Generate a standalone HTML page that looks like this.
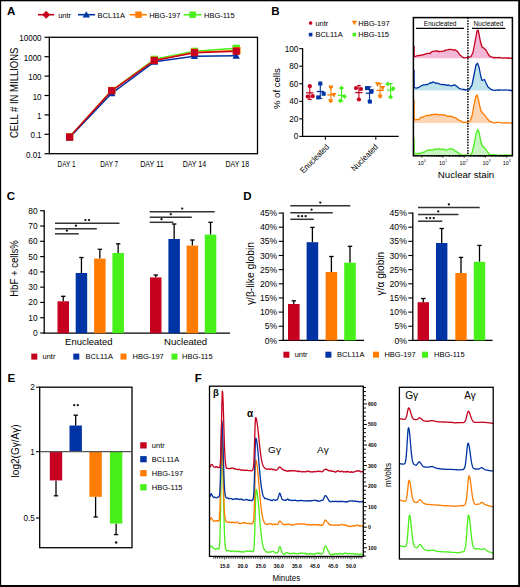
<!DOCTYPE html>
<html><head><meta charset="utf-8"><title>Figure</title>
<style>
html,body{margin:0;padding:0;background:#fff;}
body{width:520px;height:587px;overflow:hidden;}
svg{display:block;}
text{font-family:"Liberation Sans",sans-serif;}
</style></head>
<body>
<svg width="520" height="587" viewBox="0 0 520 587" font-family="Liberation Sans, sans-serif">
<rect x="0" y="0" width="520" height="587" fill="#fff"/>
<rect x="0" y="0" width="1.15" height="587" fill="#000"/>
<rect x="0" y="0" width="520" height="1.3" fill="#000"/>
<rect x="518.2" y="0" width="1.8" height="587" fill="#000"/>
<rect x="0" y="585" width="520" height="2" fill="#000"/>
<text x="7" y="14.8" font-size="11.5" text-anchor="start" font-weight="bold">A</text>
<line x1="38" y1="14.7" x2="54.2" y2="14.7" stroke="#c6001f" stroke-width="1.6"/>
<path d="M46.2 10.7 L50.2 14.7 L46.2 18.7 L42.2 14.7Z" fill="#c6001f"/>
<text x="58.2" y="17.5" font-size="7.5" text-anchor="start">untr</text>
<line x1="78" y1="14.7" x2="95" y2="14.7" stroke="#0033a3" stroke-width="1.6"/>
<path d="M86.3 11.18 L89.98 17.58 L82.62 17.58Z" fill="#0033a3"/>
<text x="97.6" y="17.5" font-size="7.5" text-anchor="start">BCL11A</text>
<line x1="129.8" y1="14.7" x2="146.8" y2="14.7" stroke="#ff7c00" stroke-width="1.6"/>
<rect x="135.3" y="11.5" width="6.4" height="6.4" fill="#ff7c00"/>
<text x="149.2" y="17.5" font-size="7.5" text-anchor="start">HBG-197</text>
<line x1="183.7" y1="14.7" x2="201.5" y2="14.7" stroke="#47f019" stroke-width="1.6"/>
<rect x="189.4" y="11.5" width="6.4" height="6.4" fill="#47f019"/>
<text x="204" y="17.5" font-size="7.5" text-anchor="start">HBG-115</text>
<rect x="49.3" y="37.3" width="208.2" height="116.4" fill="none" stroke="#000" stroke-width="1.3"/>
<line x1="44.5" y1="37.3" x2="49.3" y2="37.3" stroke="#000" stroke-width="1.2"/>
<text x="41.6" y="41.3" font-size="8.8" text-anchor="end" textLength="22.39" lengthAdjust="spacingAndGlyphs">10000</text>
<line x1="44.5" y1="56.7" x2="49.3" y2="56.7" stroke="#000" stroke-width="1.2"/>
<text x="41.6" y="60.7" font-size="8.8" text-anchor="end" textLength="17.91" lengthAdjust="spacingAndGlyphs">1000</text>
<line x1="44.5" y1="76.1" x2="49.3" y2="76.1" stroke="#000" stroke-width="1.2"/>
<text x="41.6" y="80.1" font-size="8.8" text-anchor="end" textLength="13.43" lengthAdjust="spacingAndGlyphs">100</text>
<line x1="44.5" y1="95.5" x2="49.3" y2="95.5" stroke="#000" stroke-width="1.2"/>
<text x="41.6" y="99.5" font-size="8.8" text-anchor="end" textLength="8.96" lengthAdjust="spacingAndGlyphs">10</text>
<line x1="44.5" y1="114.9" x2="49.3" y2="114.9" stroke="#000" stroke-width="1.2"/>
<text x="41.6" y="118.9" font-size="8.8" text-anchor="end" textLength="4.48" lengthAdjust="spacingAndGlyphs">1</text>
<line x1="44.5" y1="134.3" x2="49.3" y2="134.3" stroke="#000" stroke-width="1.2"/>
<text x="41.6" y="138.3" font-size="8.8" text-anchor="end" textLength="11.19" lengthAdjust="spacingAndGlyphs">0.1</text>
<line x1="44.5" y1="153.7" x2="49.3" y2="153.7" stroke="#000" stroke-width="1.2"/>
<text x="41.6" y="157.7" font-size="8.8" text-anchor="end" textLength="15.67" lengthAdjust="spacingAndGlyphs">0.01</text>
<text x="17.8" y="92.8" font-size="10.5" text-anchor="middle" textLength="90.5" lengthAdjust="spacingAndGlyphs" transform="rotate(-90 17.8 92.8)">CELL # IN MILLIONS</text>
<text x="66.5" y="167.4" font-size="9.2" text-anchor="middle" textLength="18" lengthAdjust="spacingAndGlyphs">DAY 1</text>
<text x="109.2" y="167.4" font-size="9.2" text-anchor="middle" textLength="18" lengthAdjust="spacingAndGlyphs">DAY 7</text>
<text x="151.9" y="167.4" font-size="9.2" text-anchor="middle" textLength="23.5" lengthAdjust="spacingAndGlyphs">DAY 11</text>
<text x="194.4" y="167.4" font-size="9.2" text-anchor="middle" textLength="23.5" lengthAdjust="spacingAndGlyphs">DAY 14</text>
<text x="237.3" y="167.4" font-size="9.2" text-anchor="middle" textLength="23.5" lengthAdjust="spacingAndGlyphs">DAY 18</text>
<polyline points="69.6,137 111.7,90.5 154.3,59.3 194.5,51.3 236.2,48.3" fill="none" stroke="#47f019" stroke-width="1.5" stroke-linejoin="round"/>
<polyline points="69.6,137 111.7,90.5 154.3,60.2 194.5,52.2 236.2,50.6" fill="none" stroke="#ff7c00" stroke-width="1.5" stroke-linejoin="round"/>
<polyline points="69.6,137.5 111.7,93.3 154.3,61.8 194.5,56.2 236.2,55.8" fill="none" stroke="#0033a3" stroke-width="1.5" stroke-linejoin="round"/>
<polyline points="69.6,137 111.7,90.8 154.3,60.5 194.5,52.7 236.2,51.2" fill="none" stroke="#c6001f" stroke-width="1.5" stroke-linejoin="round"/>
<rect x="66" y="133.4" width="7.2" height="7.2" fill="#47f019"/>
<rect x="108.1" y="86.9" width="7.2" height="7.2" fill="#47f019"/>
<rect x="150.7" y="55.7" width="7.2" height="7.2" fill="#47f019"/>
<rect x="190.9" y="47.7" width="7.2" height="7.2" fill="#47f019"/>
<rect x="232.6" y="44.7" width="7.2" height="7.2" fill="#47f019"/>
<rect x="66" y="133.4" width="7.2" height="7.2" fill="#ff7c00"/>
<rect x="108.1" y="86.9" width="7.2" height="7.2" fill="#ff7c00"/>
<rect x="150.7" y="56.6" width="7.2" height="7.2" fill="#ff7c00"/>
<rect x="190.9" y="48.6" width="7.2" height="7.2" fill="#ff7c00"/>
<rect x="233.4" y="47" width="7.2" height="7.2" fill="#ff7c00"/>
<path d="M69.6 133.98 L73.28 140.38 L65.92 140.38Z" fill="#0033a3"/>
<path d="M111.7 89.78 L115.38 96.18 L108.02 96.18Z" fill="#0033a3"/>
<path d="M154.3 58.28 L157.98 64.68 L150.62 64.68Z" fill="#0033a3"/>
<path d="M194.5 52.68 L198.18 59.08 L190.82 59.08Z" fill="#0033a3"/>
<path d="M236.2 52.28 L239.88 58.68 L232.52 58.68Z" fill="#0033a3"/>
<rect x="66" y="133.4" width="7.2" height="7.2" fill="#c6001f"/>
<rect x="108.1" y="87.2" width="7.2" height="7.2" fill="#c6001f"/>
<rect x="150.7" y="56.9" width="7.2" height="7.2" fill="#c6001f"/>
<rect x="190.9" y="49.1" width="7.2" height="7.2" fill="#c6001f"/>
<rect x="232.6" y="47.6" width="7.2" height="7.2" fill="#c6001f"/>
<text x="271.3" y="15" font-size="11.5" text-anchor="start" font-weight="bold">B</text>
<circle cx="310.6" cy="23.1" r="1.8" fill="#c6001f"/>
<text x="315.4" y="25.8" font-size="7.5" text-anchor="start">untr</text>
<path d="M354.4 25.33 L357.04 20.73 L351.75 20.73Z" fill="#ff7c00"/>
<text x="358.3" y="25.8" font-size="7.5" text-anchor="start">HBG-197</text>
<rect x="308.8" y="32.8" width="3.6" height="3.6" fill="#0033a3"/>
<text x="315.4" y="37.3" font-size="7.5" text-anchor="start">BCL11A</text>
<rect x="352.6" y="32.8" width="3.6" height="3.6" fill="#47f019"/>
<text x="358.3" y="37.3" font-size="7.5" text-anchor="start">HBG-115</text>
<line x1="302.6" y1="48.3" x2="302.6" y2="137" stroke="#000" stroke-width="1.3"/>
<line x1="302" y1="136.4" x2="398.7" y2="136.4" stroke="#000" stroke-width="1.3"/>
<line x1="299.3" y1="136.4" x2="302.6" y2="136.4" stroke="#000" stroke-width="1.1"/>
<text x="298.3" y="139.3" font-size="8.2" text-anchor="end">0</text>
<line x1="299.3" y1="118.85" x2="302.6" y2="118.85" stroke="#000" stroke-width="1.1"/>
<text x="298.3" y="121.75" font-size="8.2" text-anchor="end">20</text>
<line x1="299.3" y1="101.3" x2="302.6" y2="101.3" stroke="#000" stroke-width="1.1"/>
<text x="298.3" y="104.2" font-size="8.2" text-anchor="end">40</text>
<line x1="299.3" y1="83.75" x2="302.6" y2="83.75" stroke="#000" stroke-width="1.1"/>
<text x="298.3" y="86.65" font-size="8.2" text-anchor="end">60</text>
<line x1="299.3" y1="66.2" x2="302.6" y2="66.2" stroke="#000" stroke-width="1.1"/>
<text x="298.3" y="69.1" font-size="8.2" text-anchor="end">80</text>
<line x1="299.3" y1="48.65" x2="302.6" y2="48.65" stroke="#000" stroke-width="1.1"/>
<text x="298.3" y="51.55" font-size="8.2" text-anchor="end">100</text>
<line x1="325.4" y1="136.4" x2="325.4" y2="139.8" stroke="#000" stroke-width="1.1"/>
<line x1="375.8" y1="136.4" x2="375.8" y2="139.8" stroke="#000" stroke-width="1.1"/>
<text x="280" y="88.6" font-size="9.7" text-anchor="middle" textLength="40.9" lengthAdjust="spacingAndGlyphs" transform="rotate(-90 280 88.6)">% of cells</text>
<text x="329.6" y="147.6" font-size="8.4" text-anchor="end" textLength="37" lengthAdjust="spacingAndGlyphs" transform="rotate(-45 329.6 147.6)">Enucleated</text>
<text x="378.6" y="147.6" font-size="8.4" text-anchor="end" textLength="34" lengthAdjust="spacingAndGlyphs" transform="rotate(-45 378.6 147.6)">Nucleated</text>
<line x1="309.8" y1="86.8" x2="309.8" y2="99.5" stroke="#c6001f" stroke-width="1.1"/>
<line x1="307.8" y1="86.8" x2="311.8" y2="86.8" stroke="#c6001f" stroke-width="1.1"/>
<line x1="307.8" y1="99.5" x2="311.8" y2="99.5" stroke="#c6001f" stroke-width="1.1"/>
<line x1="306.2" y1="92.8" x2="313.4" y2="92.8" stroke="#c6001f" stroke-width="1.3"/>
<circle cx="309.8" cy="86" r="2.1" fill="#c6001f"/>
<circle cx="307.7" cy="96.6" r="2.1" fill="#c6001f"/>
<circle cx="312.7" cy="96.2" r="2.1" fill="#c6001f"/>
<line x1="320.3" y1="84" x2="320.3" y2="98.5" stroke="#0033a3" stroke-width="1.1"/>
<line x1="318.3" y1="84" x2="322.3" y2="84" stroke="#0033a3" stroke-width="1.1"/>
<line x1="318.3" y1="98.5" x2="322.3" y2="98.5" stroke="#0033a3" stroke-width="1.1"/>
<line x1="316.7" y1="91.5" x2="323.9" y2="91.5" stroke="#0033a3" stroke-width="1.3"/>
<rect x="318.3" y="81.5" width="4" height="4" fill="#0033a3"/>
<rect x="321.7" y="91.8" width="4" height="4" fill="#0033a3"/>
<rect x="316.2" y="95.4" width="4" height="4" fill="#0033a3"/>
<line x1="330.9" y1="87.5" x2="330.9" y2="101.5" stroke="#ff7c00" stroke-width="1.1"/>
<line x1="328.9" y1="87.5" x2="332.9" y2="87.5" stroke="#ff7c00" stroke-width="1.1"/>
<line x1="328.9" y1="101.5" x2="332.9" y2="101.5" stroke="#ff7c00" stroke-width="1.1"/>
<line x1="327.3" y1="94.9" x2="334.5" y2="94.9" stroke="#ff7c00" stroke-width="1.3"/>
<path d="M330.9 89.92 L333.43 85.52 L328.37 85.52Z" fill="#ff7c00"/>
<path d="M333.9 97.52 L336.43 93.12 L331.37 93.12Z" fill="#ff7c00"/>
<path d="M330.5 103.62 L333.03 99.22 L327.97 99.22Z" fill="#ff7c00"/>
<line x1="341.5" y1="88.1" x2="341.5" y2="101" stroke="#47f019" stroke-width="1.1"/>
<line x1="339.5" y1="88.1" x2="343.5" y2="88.1" stroke="#47f019" stroke-width="1.1"/>
<line x1="339.5" y1="101" x2="343.5" y2="101" stroke="#47f019" stroke-width="1.1"/>
<line x1="337.9" y1="95.3" x2="345.1" y2="95.3" stroke="#47f019" stroke-width="1.3"/>
<path d="M341.5 85.72 L343.88 88.1 L341.5 90.47 L339.12 88.1Z" fill="#47f019"/>
<path d="M344.5 94.22 L346.88 96.6 L344.5 98.97 L342.12 96.6Z" fill="#47f019"/>
<path d="M340.2 98.42 L342.57 100.8 L340.2 103.17 L337.82 100.8Z" fill="#47f019"/>
<line x1="358.9" y1="85.6" x2="358.9" y2="99.5" stroke="#c6001f" stroke-width="1.1"/>
<line x1="356.9" y1="85.6" x2="360.9" y2="85.6" stroke="#c6001f" stroke-width="1.1"/>
<line x1="356.9" y1="99.5" x2="360.9" y2="99.5" stroke="#c6001f" stroke-width="1.1"/>
<line x1="355.3" y1="92.6" x2="362.5" y2="92.6" stroke="#c6001f" stroke-width="1.3"/>
<circle cx="356" cy="88.1" r="2.1" fill="#c6001f"/>
<circle cx="361" cy="89" r="2.1" fill="#c6001f"/>
<circle cx="358.9" cy="99.5" r="2.1" fill="#c6001f"/>
<line x1="369.5" y1="86.8" x2="369.5" y2="101" stroke="#0033a3" stroke-width="1.1"/>
<line x1="367.5" y1="86.8" x2="371.5" y2="86.8" stroke="#0033a3" stroke-width="1.1"/>
<line x1="367.5" y1="101" x2="371.5" y2="101" stroke="#0033a3" stroke-width="1.1"/>
<line x1="365.9" y1="93.2" x2="373.1" y2="93.2" stroke="#0033a3" stroke-width="1.3"/>
<rect x="365" y="86.1" width="4" height="4" fill="#0033a3"/>
<rect x="369.6" y="89.1" width="4" height="4" fill="#0033a3"/>
<rect x="367.9" y="99.6" width="4" height="4" fill="#0033a3"/>
<line x1="380.1" y1="83.5" x2="380.1" y2="97" stroke="#ff7c00" stroke-width="1.1"/>
<line x1="378.1" y1="83.5" x2="382.1" y2="83.5" stroke="#ff7c00" stroke-width="1.1"/>
<line x1="378.1" y1="97" x2="382.1" y2="97" stroke="#ff7c00" stroke-width="1.1"/>
<line x1="376.5" y1="90.4" x2="383.7" y2="90.4" stroke="#ff7c00" stroke-width="1.3"/>
<path d="M377.5 86.72 L380.03 82.32 L374.97 82.32Z" fill="#ff7c00"/>
<path d="M382.6 90.52 L385.13 86.12 L380.07 86.12Z" fill="#ff7c00"/>
<path d="M380.1 99.02 L382.63 94.62 L377.57 94.62Z" fill="#ff7c00"/>
<line x1="390.6" y1="83.5" x2="390.6" y2="97.5" stroke="#47f019" stroke-width="1.1"/>
<line x1="388.6" y1="83.5" x2="392.6" y2="83.5" stroke="#47f019" stroke-width="1.1"/>
<line x1="388.6" y1="97.5" x2="392.6" y2="97.5" stroke="#47f019" stroke-width="1.1"/>
<line x1="387" y1="90.1" x2="394.2" y2="90.1" stroke="#47f019" stroke-width="1.3"/>
<path d="M387.7 81.53 L390.07 83.9 L387.7 86.28 L385.32 83.9Z" fill="#47f019"/>
<path d="M393.2 86.12 L395.57 88.5 L393.2 90.88 L390.82 88.5Z" fill="#47f019"/>
<path d="M390.6 94.62 L392.98 97 L390.6 99.38 L388.23 97Z" fill="#47f019"/>
<path d="M414 46 L414.2 56.7 L415.47 56.4 L416.73 55.94 L418 55.49 L419 55.81 L420 55.17 L421 55.46 L422 55.18 L423 54.6 L424 54.71 L425 53.98 L426 54.04 L427 53.51 L428 53.33 L429 53.43 L430 53.59 L431 52.26 L432 51.65 L433 51.31 L434 51.47 L435 51 L436 50.71 L437 51.46 L438 50.86 L439 51.82 L440 51.41 L441 51.38 L442 51.46 L443 51.19 L444 51.22 L445 50.21 L446 50.27 L447 50.03 L448 49.49 L449 49.69 L450 49.31 L451 49.35 L452 49.54 L453 50 L454 49.8 L455 49.73 L456 50.53 L457 50.96 L458 52.15 L459 53.93 L460 55.18 L461 55.57 L462 56.67 L463 57.42 L464 57.8 L465 57.73 L466 57.58 L467 57.64 L468 57.7 L469 57.3 L470 56.9 L471 56.5 L472 54.5 L473 52.5 L474 47.25 L475 42 L476 36.5 L477 31 L478 30 L479 34 L480.5 42 L482 47 L483 47.65 L484 48.3 L485 49.15 L486 50 L487 52 L488 54 L489 55.25 L490 56.5 L491 56.8 L492 57.1 L493 57.21 L494 58.13 L495.02 57.37 L496.04 57.66 L497.07 57.98 L498.09 57.45 L499.11 57.77 L500.13 57.39 L501.16 57.97 L502.18 58.07 L503.2 57.92 L504.22 58.2 L505.24 57.72 L506.27 58.08 L507.29 58 L508.31 58.01 L509.33 57.91 L510.36 58.27 L511.38 58.38 L512.4 57.98 L512.4 58.3 L414 58.3 Z" fill="#f2b8d6" stroke="none" stroke-width="1"/>
<path d="M414 46 L414.2 56.7 L415.47 56.4 L416.73 55.94 L418 55.49 L419 55.81 L420 55.17 L421 55.46 L422 55.18 L423 54.6 L424 54.71 L425 53.98 L426 54.04 L427 53.51 L428 53.33 L429 53.43 L430 53.59 L431 52.26 L432 51.65 L433 51.31 L434 51.47 L435 51 L436 50.71 L437 51.46 L438 50.86 L439 51.82 L440 51.41 L441 51.38 L442 51.46 L443 51.19 L444 51.22 L445 50.21 L446 50.27 L447 50.03 L448 49.49 L449 49.69 L450 49.31 L451 49.35 L452 49.54 L453 50 L454 49.8 L455 49.73 L456 50.53 L457 50.96 L458 52.15 L459 53.93 L460 55.18 L461 55.57 L462 56.67 L463 57.42 L464 57.8 L465 57.73 L466 57.58 L467 57.64 L468 57.7 L469 57.3 L470 56.9 L471 56.5 L472 54.5 L473 52.5 L474 47.25 L475 42 L476 36.5 L477 31 L478 30 L479 34 L480.5 42 L482 47 L483 47.65 L484 48.3 L485 49.15 L486 50 L487 52 L488 54 L489 55.25 L490 56.5 L491 56.8 L492 57.1 L493 57.21 L494 58.13 L495.02 57.37 L496.04 57.66 L497.07 57.98 L498.09 57.45 L499.11 57.77 L500.13 57.39 L501.16 57.97 L502.18 58.07 L503.2 57.92 L504.22 58.2 L505.24 57.72 L506.27 58.08 L507.29 58 L508.31 58.01 L509.33 57.91 L510.36 58.27 L511.38 58.38 L512.4 57.98" fill="none" stroke="#c6001f" stroke-width="1.3" stroke-linejoin="round"/>
<path d="M414 70 L414.2 87.7 L415.47 87.8 L416.73 88.05 L418 87.6 L419 87.35 L420 86.47 L421 85.94 L422 85.61 L423 84.96 L424 84.87 L425 84.95 L426 84.3 L427 84.63 L428 84.3 L429.25 83.46 L430.5 82.6 L431.75 82.89 L433 81.97 L434 82.35 L435 82.75 L436 83.46 L437 83.02 L438 83.5 L439 83.74 L440 84.2 L441 84.29 L442 84.56 L443 84.27 L444 84.62 L445 84.67 L446 85.25 L447 85.41 L448 84.94 L449 85.21 L450 85.51 L451 85.76 L452 85.65 L453 85.41 L454 84.79 L455 85.05 L456 85.93 L457 86.38 L458 87.23 L459 88.24 L460 88.67 L461 88.85 L462 89.27 L463 89.66 L464 89.17 L465 90.01 L466 89.72 L467 89.8 L468 89.8 L469 89.8 L470 88.2 L471 86.6 L472 85 L473 80 L474 75 L475 70 L476 65 L477.5 63.3 L479 67 L480.5 75 L482 80.5 L483.25 80 L484.5 79.5 L486 83 L487 85 L488 87 L489 87.83 L490 88.67 L491 89.5 L492 89.64 L493 90.03 L494 90.26 L495 90.33 L496 90.1 L497.02 90.13 L498.05 89.88 L499.07 90.38 L500.1 89.88 L501.12 89.9 L502.15 90.05 L503.18 90.03 L504.2 90.21 L505.22 89.97 L506.25 89.94 L507.27 90.09 L508.3 90.07 L509.32 90.32 L510.35 90.04 L511.38 90.82 L512.4 90.6 L512.4 90.5 L414 90.5 Z" fill="#bfe3ea" stroke="none" stroke-width="1"/>
<path d="M414 70 L414.2 87.7 L415.47 87.8 L416.73 88.05 L418 87.6 L419 87.35 L420 86.47 L421 85.94 L422 85.61 L423 84.96 L424 84.87 L425 84.95 L426 84.3 L427 84.63 L428 84.3 L429.25 83.46 L430.5 82.6 L431.75 82.89 L433 81.97 L434 82.35 L435 82.75 L436 83.46 L437 83.02 L438 83.5 L439 83.74 L440 84.2 L441 84.29 L442 84.56 L443 84.27 L444 84.62 L445 84.67 L446 85.25 L447 85.41 L448 84.94 L449 85.21 L450 85.51 L451 85.76 L452 85.65 L453 85.41 L454 84.79 L455 85.05 L456 85.93 L457 86.38 L458 87.23 L459 88.24 L460 88.67 L461 88.85 L462 89.27 L463 89.66 L464 89.17 L465 90.01 L466 89.72 L467 89.8 L468 89.8 L469 89.8 L470 88.2 L471 86.6 L472 85 L473 80 L474 75 L475 70 L476 65 L477.5 63.3 L479 67 L480.5 75 L482 80.5 L483.25 80 L484.5 79.5 L486 83 L487 85 L488 87 L489 87.83 L490 88.67 L491 89.5 L492 89.64 L493 90.03 L494 90.26 L495 90.33 L496 90.1 L497.02 90.13 L498.05 89.88 L499.07 90.38 L500.1 89.88 L501.12 89.9 L502.15 90.05 L503.18 90.03 L504.2 90.21 L505.22 89.97 L506.25 89.94 L507.27 90.09 L508.3 90.07 L509.32 90.32 L510.35 90.04 L511.38 90.82 L512.4 90.6" fill="none" stroke="#0033a3" stroke-width="1.3" stroke-linejoin="round"/>
<path d="M414 99.5 L414.2 119.8 L415.32 119.8 L416.45 119.48 L417.57 119.58 L418.7 119.66 L419.85 118.53 L421 117.16 L422 117.44 L423 117.19 L424 116.34 L425 115.99 L426 115.5 L427 115.39 L428 115.48 L429 115.29 L430 115.52 L431 114.65 L432 114.25 L433 114.81 L434 114.47 L435 114.16 L436 114.56 L437 114.13 L438 114.63 L439 115 L440 114.86 L441 114.68 L442 114.69 L443 115.18 L444 114.75 L445 115.04 L446 115.4 L447 116.18 L448 116.35 L449 116.02 L450 116.31 L451 116.24 L452 116.54 L453 116.93 L454 117.36 L455 117.72 L456 118 L457 119.02 L458 119.62 L459 120.08 L460 120.5 L461 121.15 L462 121.56 L463 122.37 L464 122.64 L465 122.2 L466 122.28 L467 122.3 L468 121.87 L469 121.43 L470 121 L471 118.5 L472 116 L473 110.5 L474 105 L475 100.5 L476 96 L477 95 L478 97.5 L479.5 105 L481 111 L482 112.25 L483 113.5 L484 114.5 L485 115.5 L486 117 L487 118.5 L488 119.5 L489 120.5 L490 121.5 L491 121.72 L492 121.94 L493 122.55 L494 122.82 L495 123.01 L496.02 122.49 L497.05 122.37 L498.07 122.39 L499.09 122.37 L500.12 122.39 L501.14 122.78 L502.16 123.04 L503.19 123 L504.21 122.69 L505.24 122.86 L506.26 123 L507.28 122.37 L508.31 122.9 L509.33 123.13 L510.35 123.03 L511.38 123.01 L512.4 122.78 L512.4 123 L414 123 Z" fill="#fdd5b4" stroke="none" stroke-width="1"/>
<path d="M414 99.5 L414.2 119.8 L415.32 119.8 L416.45 119.48 L417.57 119.58 L418.7 119.66 L419.85 118.53 L421 117.16 L422 117.44 L423 117.19 L424 116.34 L425 115.99 L426 115.5 L427 115.39 L428 115.48 L429 115.29 L430 115.52 L431 114.65 L432 114.25 L433 114.81 L434 114.47 L435 114.16 L436 114.56 L437 114.13 L438 114.63 L439 115 L440 114.86 L441 114.68 L442 114.69 L443 115.18 L444 114.75 L445 115.04 L446 115.4 L447 116.18 L448 116.35 L449 116.02 L450 116.31 L451 116.24 L452 116.54 L453 116.93 L454 117.36 L455 117.72 L456 118 L457 119.02 L458 119.62 L459 120.08 L460 120.5 L461 121.15 L462 121.56 L463 122.37 L464 122.64 L465 122.2 L466 122.28 L467 122.3 L468 121.87 L469 121.43 L470 121 L471 118.5 L472 116 L473 110.5 L474 105 L475 100.5 L476 96 L477 95 L478 97.5 L479.5 105 L481 111 L482 112.25 L483 113.5 L484 114.5 L485 115.5 L486 117 L487 118.5 L488 119.5 L489 120.5 L490 121.5 L491 121.72 L492 121.94 L493 122.55 L494 122.82 L495 123.01 L496.02 122.49 L497.05 122.37 L498.07 122.39 L499.09 122.37 L500.12 122.39 L501.14 122.78 L502.16 123.04 L503.19 123 L504.21 122.69 L505.24 122.86 L506.26 123 L507.28 122.37 L508.31 122.9 L509.33 123.13 L510.35 123.03 L511.38 123.01 L512.4 122.78" fill="none" stroke="#ff7c00" stroke-width="1.3" stroke-linejoin="round"/>
<path d="M414 137.7 L414.2 153.8 L415.47 153.7 L416.73 153.31 L418 153.76 L419 153.18 L420 153.44 L421 153.42 L422 152.53 L423 152.16 L424 152.28 L425 151.7 L426 150.87 L427 150.5 L428 150.19 L429.5 149.76 L430.75 150.08 L432 149.88 L433 150.03 L434 149.7 L435 148.94 L436 149.02 L437 149.54 L438 149 L439 148.73 L440 149.42 L441 149.13 L442 149.02 L443 149.39 L444 148.94 L445 149.77 L446 150.16 L447 150.04 L448 149.54 L449 149.05 L450 148.47 L451 149.04 L452 149.02 L453 149.43 L454 149.83 L455 151.2 L456 151.37 L457 152.09 L458 152.83 L459 153.74 L460 153.93 L461 154.78 L462 154.8 L463 155.23 L464 155.24 L465 154.8 L466 155.24 L467 155.26 L468 155.27 L469 155.29 L470 155.3 L471 154.15 L472 153 L473 149 L474 145 L475 139.5 L476 134 L477.7 129.5 L479 132 L480.5 140 L482 145.5 L483 146.4 L484 147.3 L485 148.4 L486 149.5 L487 151 L488 152.5 L489 153.75 L490 155 L491.02 155.01 L492.04 154.96 L493.05 154.74 L494.07 154.59 L495.09 155.31 L496.11 154.76 L497.13 155.04 L498.15 155.28 L499.16 155.13 L500.18 154.93 L501.2 155.12 L502.22 155.16 L503.24 155.37 L504.25 154.77 L505.27 155.19 L506.29 154.92 L507.31 154.95 L508.33 155.41 L509.35 155.18 L510.36 155.24 L511.38 155.42 L512.4 155.57 L512.4 155.5 L414 155.5 Z" fill="#c9f5c2" stroke="none" stroke-width="1"/>
<path d="M414 137.7 L414.2 153.8 L415.47 153.7 L416.73 153.31 L418 153.76 L419 153.18 L420 153.44 L421 153.42 L422 152.53 L423 152.16 L424 152.28 L425 151.7 L426 150.87 L427 150.5 L428 150.19 L429.5 149.76 L430.75 150.08 L432 149.88 L433 150.03 L434 149.7 L435 148.94 L436 149.02 L437 149.54 L438 149 L439 148.73 L440 149.42 L441 149.13 L442 149.02 L443 149.39 L444 148.94 L445 149.77 L446 150.16 L447 150.04 L448 149.54 L449 149.05 L450 148.47 L451 149.04 L452 149.02 L453 149.43 L454 149.83 L455 151.2 L456 151.37 L457 152.09 L458 152.83 L459 153.74 L460 153.93 L461 154.78 L462 154.8 L463 155.23 L464 155.24 L465 154.8 L466 155.24 L467 155.26 L468 155.27 L469 155.29 L470 155.3 L471 154.15 L472 153 L473 149 L474 145 L475 139.5 L476 134 L477.7 129.5 L479 132 L480.5 140 L482 145.5 L483 146.4 L484 147.3 L485 148.4 L486 149.5 L487 151 L488 152.5 L489 153.75 L490 155 L491.02 155.01 L492.04 154.96 L493.05 154.74 L494.07 154.59 L495.09 155.31 L496.11 154.76 L497.13 155.04 L498.15 155.28 L499.16 155.13 L500.18 154.93 L501.2 155.12 L502.22 155.16 L503.24 155.37 L504.25 154.77 L505.27 155.19 L506.29 154.92 L507.31 154.95 L508.33 155.41 L509.35 155.18 L510.36 155.24 L511.38 155.42 L512.4 155.57" fill="none" stroke="#47f019" stroke-width="1.3" stroke-linejoin="round"/>
<line x1="467.9" y1="17.6" x2="467.9" y2="155.8" stroke="#111" stroke-width="1.6" stroke-dasharray="1.5 1.2"/>
<rect x="413.4" y="17.6" width="99" height="138.2" fill="none" stroke="#000" stroke-width="1.5"/>
<text x="440.1" y="26.2" font-size="7.6" text-anchor="middle" textLength="32.6" lengthAdjust="spacingAndGlyphs">Enucleated</text>
<line x1="416" y1="28.3" x2="464" y2="28.3" stroke="#000" stroke-width="1.3"/>
<text x="488.4" y="26.2" font-size="7.6" text-anchor="middle" textLength="29.8" lengthAdjust="spacingAndGlyphs">Nucleated</text>
<line x1="472" y1="28.3" x2="505.3" y2="28.3" stroke="#000" stroke-width="1.3"/>
<text x="420.8" y="165" font-size="5.5" text-anchor="middle">10</text>
<text x="424.1" y="162" font-size="3.2" text-anchor="start">0</text>
<text x="442" y="165" font-size="5.5" text-anchor="middle">10</text>
<text x="445.3" y="162" font-size="3.2" text-anchor="start">1</text>
<text x="462.6" y="165" font-size="5.5" text-anchor="middle">10</text>
<text x="465.9" y="162" font-size="3.2" text-anchor="start">2</text>
<text x="485.5" y="165" font-size="5.5" text-anchor="middle">10</text>
<text x="488.8" y="162" font-size="3.2" text-anchor="start">3</text>
<text x="505.8" y="165" font-size="5.5" text-anchor="middle">10</text>
<text x="509.1" y="162" font-size="3.2" text-anchor="start">4</text>
<line x1="421.8" y1="155.8" x2="421.8" y2="158" stroke="#000" stroke-width="0.6"/>
<line x1="428.2" y1="155.8" x2="428.2" y2="157" stroke="#000" stroke-width="0.6"/>
<line x1="431.94" y1="155.8" x2="431.94" y2="157" stroke="#000" stroke-width="0.6"/>
<line x1="434.59" y1="155.8" x2="434.59" y2="157" stroke="#000" stroke-width="0.6"/>
<line x1="436.65" y1="155.8" x2="436.65" y2="157" stroke="#000" stroke-width="0.6"/>
<line x1="438.34" y1="155.8" x2="438.34" y2="157" stroke="#000" stroke-width="0.6"/>
<line x1="439.76" y1="155.8" x2="439.76" y2="157" stroke="#000" stroke-width="0.6"/>
<line x1="440.99" y1="155.8" x2="440.99" y2="157" stroke="#000" stroke-width="0.6"/>
<line x1="442.08" y1="155.8" x2="442.08" y2="157" stroke="#000" stroke-width="0.6"/>
<line x1="443.05" y1="155.8" x2="443.05" y2="158" stroke="#000" stroke-width="0.6"/>
<line x1="449.45" y1="155.8" x2="449.45" y2="157" stroke="#000" stroke-width="0.6"/>
<line x1="453.19" y1="155.8" x2="453.19" y2="157" stroke="#000" stroke-width="0.6"/>
<line x1="455.84" y1="155.8" x2="455.84" y2="157" stroke="#000" stroke-width="0.6"/>
<line x1="457.9" y1="155.8" x2="457.9" y2="157" stroke="#000" stroke-width="0.6"/>
<line x1="459.59" y1="155.8" x2="459.59" y2="157" stroke="#000" stroke-width="0.6"/>
<line x1="461.01" y1="155.8" x2="461.01" y2="157" stroke="#000" stroke-width="0.6"/>
<line x1="462.24" y1="155.8" x2="462.24" y2="157" stroke="#000" stroke-width="0.6"/>
<line x1="463.33" y1="155.8" x2="463.33" y2="157" stroke="#000" stroke-width="0.6"/>
<line x1="464.3" y1="155.8" x2="464.3" y2="158" stroke="#000" stroke-width="0.6"/>
<line x1="470.7" y1="155.8" x2="470.7" y2="157" stroke="#000" stroke-width="0.6"/>
<line x1="474.44" y1="155.8" x2="474.44" y2="157" stroke="#000" stroke-width="0.6"/>
<line x1="477.09" y1="155.8" x2="477.09" y2="157" stroke="#000" stroke-width="0.6"/>
<line x1="479.15" y1="155.8" x2="479.15" y2="157" stroke="#000" stroke-width="0.6"/>
<line x1="480.84" y1="155.8" x2="480.84" y2="157" stroke="#000" stroke-width="0.6"/>
<line x1="482.26" y1="155.8" x2="482.26" y2="157" stroke="#000" stroke-width="0.6"/>
<line x1="483.49" y1="155.8" x2="483.49" y2="157" stroke="#000" stroke-width="0.6"/>
<line x1="484.58" y1="155.8" x2="484.58" y2="157" stroke="#000" stroke-width="0.6"/>
<line x1="485.55" y1="155.8" x2="485.55" y2="158" stroke="#000" stroke-width="0.6"/>
<line x1="491.95" y1="155.8" x2="491.95" y2="157" stroke="#000" stroke-width="0.6"/>
<line x1="495.69" y1="155.8" x2="495.69" y2="157" stroke="#000" stroke-width="0.6"/>
<line x1="498.34" y1="155.8" x2="498.34" y2="157" stroke="#000" stroke-width="0.6"/>
<line x1="500.4" y1="155.8" x2="500.4" y2="157" stroke="#000" stroke-width="0.6"/>
<line x1="502.09" y1="155.8" x2="502.09" y2="157" stroke="#000" stroke-width="0.6"/>
<line x1="503.51" y1="155.8" x2="503.51" y2="157" stroke="#000" stroke-width="0.6"/>
<line x1="504.74" y1="155.8" x2="504.74" y2="157" stroke="#000" stroke-width="0.6"/>
<line x1="505.83" y1="155.8" x2="505.83" y2="157" stroke="#000" stroke-width="0.6"/>
<line x1="506.8" y1="155.8" x2="506.8" y2="158" stroke="#000" stroke-width="0.6"/>
<text x="466" y="178.2" font-size="9.7" text-anchor="middle" textLength="56.4" lengthAdjust="spacingAndGlyphs">Nuclear stain</text>
<text x="6.7" y="199.8" font-size="11.5" text-anchor="start" font-weight="bold">C</text>
<line x1="44.2" y1="210.2" x2="44.2" y2="333.6" stroke="#000" stroke-width="1.3"/>
<line x1="43.6" y1="333.2" x2="230" y2="333.2" stroke="#000" stroke-width="1.3"/>
<line x1="40.2" y1="333" x2="44.2" y2="333" stroke="#000" stroke-width="1.2"/>
<text x="37.6" y="335.9" font-size="8.4" text-anchor="end">0</text>
<line x1="40.2" y1="317.72" x2="44.2" y2="317.72" stroke="#000" stroke-width="1.2"/>
<text x="37.6" y="320.62" font-size="8.4" text-anchor="end">10</text>
<line x1="40.2" y1="302.44" x2="44.2" y2="302.44" stroke="#000" stroke-width="1.2"/>
<text x="37.6" y="305.34" font-size="8.4" text-anchor="end">20</text>
<line x1="40.2" y1="287.16" x2="44.2" y2="287.16" stroke="#000" stroke-width="1.2"/>
<text x="37.6" y="290.06" font-size="8.4" text-anchor="end">30</text>
<line x1="40.2" y1="271.88" x2="44.2" y2="271.88" stroke="#000" stroke-width="1.2"/>
<text x="37.6" y="274.78" font-size="8.4" text-anchor="end">40</text>
<line x1="40.2" y1="256.6" x2="44.2" y2="256.6" stroke="#000" stroke-width="1.2"/>
<text x="37.6" y="259.5" font-size="8.4" text-anchor="end">50</text>
<line x1="40.2" y1="241.32" x2="44.2" y2="241.32" stroke="#000" stroke-width="1.2"/>
<text x="37.6" y="244.22" font-size="8.4" text-anchor="end">60</text>
<line x1="40.2" y1="226.04" x2="44.2" y2="226.04" stroke="#000" stroke-width="1.2"/>
<text x="37.6" y="228.94" font-size="8.4" text-anchor="end">70</text>
<line x1="40.2" y1="210.76" x2="44.2" y2="210.76" stroke="#000" stroke-width="1.2"/>
<text x="37.6" y="213.66" font-size="8.4" text-anchor="end">80</text>
<text x="17.5" y="268.5" font-size="10" text-anchor="middle" textLength="56.6" lengthAdjust="spacingAndGlyphs" transform="rotate(-90 17.5 268.5)">HbF + cells%</text>
<line x1="63.25" y1="296.3" x2="63.25" y2="301.3" stroke="#000" stroke-width="1.3"/>
<line x1="61.05" y1="296.3" x2="65.45" y2="296.3" stroke="#000" stroke-width="1.3"/>
<rect x="57.5" y="301.3" width="11.5" height="31.9" fill="#c6001f"/>
<line x1="81.45" y1="257.5" x2="81.45" y2="273" stroke="#000" stroke-width="1.3"/>
<line x1="79.25" y1="257.5" x2="83.65" y2="257.5" stroke="#000" stroke-width="1.3"/>
<rect x="75.7" y="273" width="11.5" height="60.2" fill="#0033a3"/>
<line x1="99.85" y1="249.3" x2="99.85" y2="258.6" stroke="#000" stroke-width="1.3"/>
<line x1="97.65" y1="249.3" x2="102.05" y2="249.3" stroke="#000" stroke-width="1.3"/>
<rect x="94.1" y="258.6" width="11.5" height="74.6" fill="#ff7c00"/>
<line x1="118.15" y1="243.8" x2="118.15" y2="253" stroke="#000" stroke-width="1.3"/>
<line x1="115.95" y1="243.8" x2="120.35" y2="243.8" stroke="#000" stroke-width="1.3"/>
<rect x="112.4" y="253" width="11.5" height="80.2" fill="#47f019"/>
<line x1="155.75" y1="275" x2="155.75" y2="277.4" stroke="#000" stroke-width="1.3"/>
<line x1="153.55" y1="275" x2="157.95" y2="275" stroke="#000" stroke-width="1.3"/>
<rect x="150" y="277.4" width="11.5" height="55.8" fill="#c6001f"/>
<line x1="174.15" y1="224" x2="174.15" y2="239" stroke="#000" stroke-width="1.3"/>
<line x1="171.95" y1="224" x2="176.35" y2="224" stroke="#000" stroke-width="1.3"/>
<rect x="168.4" y="239" width="11.5" height="94.2" fill="#0033a3"/>
<line x1="192.35" y1="240" x2="192.35" y2="245.6" stroke="#000" stroke-width="1.3"/>
<line x1="190.15" y1="240" x2="194.55" y2="240" stroke="#000" stroke-width="1.3"/>
<rect x="186.6" y="245.6" width="11.5" height="87.6" fill="#ff7c00"/>
<line x1="210.55" y1="222.3" x2="210.55" y2="234.6" stroke="#000" stroke-width="1.3"/>
<line x1="208.35" y1="222.3" x2="212.75" y2="222.3" stroke="#000" stroke-width="1.3"/>
<rect x="204.8" y="234.6" width="11.5" height="98.6" fill="#47f019"/>
<line x1="55" y1="233.8" x2="78.8" y2="233.8" stroke="#333" stroke-width="1.5"/>
<circle cx="66.9" cy="230.7" r="1.15" fill="#111"/>
<line x1="55" y1="228.8" x2="96.8" y2="228.8" stroke="#333" stroke-width="1.5"/>
<circle cx="75.9" cy="225.7" r="1.15" fill="#111"/>
<line x1="55" y1="223.2" x2="119.5" y2="223.2" stroke="#333" stroke-width="1.5"/>
<circle cx="85.45" cy="220.1" r="1.15" fill="#111"/>
<circle cx="89.05" cy="220.1" r="1.15" fill="#111"/>
<line x1="149.7" y1="222.3" x2="173.3" y2="222.3" stroke="#333" stroke-width="1.5"/>
<circle cx="161.5" cy="219.2" r="1.15" fill="#111"/>
<line x1="149.7" y1="217.3" x2="191.8" y2="217.3" stroke="#333" stroke-width="1.5"/>
<circle cx="170.75" cy="214.2" r="1.15" fill="#111"/>
<line x1="149.7" y1="211.7" x2="214.7" y2="211.7" stroke="#333" stroke-width="1.5"/>
<circle cx="182.2" cy="208.6" r="1.15" fill="#111"/>
<text x="88.8" y="345.2" font-size="9.6" text-anchor="middle" textLength="47.5" lengthAdjust="spacingAndGlyphs">Enucleated</text>
<text x="185.6" y="345.2" font-size="9.6" text-anchor="middle" textLength="43" lengthAdjust="spacingAndGlyphs">Nucleated</text>
<rect x="31.3" y="353.6" width="6" height="6" fill="#c6001f"/>
<text x="42.5" y="359.3" font-size="7.5" text-anchor="start">untr</text>
<rect x="73.3" y="353.6" width="6" height="6" fill="#0033a3"/>
<text x="85.5" y="359.3" font-size="7.5" text-anchor="start">BCL11A</text>
<rect x="120.5" y="353.6" width="6" height="6" fill="#ff7c00"/>
<text x="132.5" y="359.3" font-size="7.5" text-anchor="start">HBG-197</text>
<rect x="171.5" y="353.6" width="6" height="6" fill="#47f019"/>
<text x="182" y="359.3" font-size="7.5" text-anchor="start">HBG-115</text>
<text x="243.2" y="199.8" font-size="11.5" text-anchor="start" font-weight="bold">D</text>
<line x1="283.2" y1="212.5" x2="283.2" y2="341" stroke="#000" stroke-width="1.3"/>
<line x1="282.6" y1="340.4" x2="364" y2="340.4" stroke="#000" stroke-width="1.3"/>
<line x1="278.7" y1="340.4" x2="283.2" y2="340.4" stroke="#000" stroke-width="1.1"/>
<text x="277.2" y="343.5" font-size="8.6" text-anchor="end">0%</text>
<line x1="278.7" y1="326.25" x2="283.2" y2="326.25" stroke="#000" stroke-width="1.1"/>
<text x="277.2" y="329.35" font-size="8.6" text-anchor="end">5%</text>
<line x1="278.7" y1="312.1" x2="283.2" y2="312.1" stroke="#000" stroke-width="1.1"/>
<text x="277.2" y="315.2" font-size="8.6" text-anchor="end">10%</text>
<line x1="278.7" y1="297.95" x2="283.2" y2="297.95" stroke="#000" stroke-width="1.1"/>
<text x="277.2" y="301.05" font-size="8.6" text-anchor="end">15%</text>
<line x1="278.7" y1="283.8" x2="283.2" y2="283.8" stroke="#000" stroke-width="1.1"/>
<text x="277.2" y="286.9" font-size="8.6" text-anchor="end">20%</text>
<line x1="278.7" y1="269.65" x2="283.2" y2="269.65" stroke="#000" stroke-width="1.1"/>
<text x="277.2" y="272.75" font-size="8.6" text-anchor="end">25%</text>
<line x1="278.7" y1="255.5" x2="283.2" y2="255.5" stroke="#000" stroke-width="1.1"/>
<text x="277.2" y="258.6" font-size="8.6" text-anchor="end">30%</text>
<line x1="278.7" y1="241.35" x2="283.2" y2="241.35" stroke="#000" stroke-width="1.1"/>
<text x="277.2" y="244.45" font-size="8.6" text-anchor="end">35%</text>
<line x1="278.7" y1="227.2" x2="283.2" y2="227.2" stroke="#000" stroke-width="1.1"/>
<text x="277.2" y="230.3" font-size="8.6" text-anchor="end">40%</text>
<line x1="278.7" y1="213.05" x2="283.2" y2="213.05" stroke="#000" stroke-width="1.1"/>
<text x="277.2" y="216.15" font-size="8.6" text-anchor="end">45%</text>
<line x1="412.8" y1="212.5" x2="412.8" y2="341" stroke="#000" stroke-width="1.3"/>
<line x1="412.2" y1="340.4" x2="492.6" y2="340.4" stroke="#000" stroke-width="1.3"/>
<line x1="408.3" y1="340.4" x2="412.8" y2="340.4" stroke="#000" stroke-width="1.1"/>
<text x="406.8" y="343.5" font-size="8.6" text-anchor="end">0%</text>
<line x1="408.3" y1="326.25" x2="412.8" y2="326.25" stroke="#000" stroke-width="1.1"/>
<text x="406.8" y="329.35" font-size="8.6" text-anchor="end">5%</text>
<line x1="408.3" y1="312.1" x2="412.8" y2="312.1" stroke="#000" stroke-width="1.1"/>
<text x="406.8" y="315.2" font-size="8.6" text-anchor="end">10%</text>
<line x1="408.3" y1="297.95" x2="412.8" y2="297.95" stroke="#000" stroke-width="1.1"/>
<text x="406.8" y="301.05" font-size="8.6" text-anchor="end">15%</text>
<line x1="408.3" y1="283.8" x2="412.8" y2="283.8" stroke="#000" stroke-width="1.1"/>
<text x="406.8" y="286.9" font-size="8.6" text-anchor="end">20%</text>
<line x1="408.3" y1="269.65" x2="412.8" y2="269.65" stroke="#000" stroke-width="1.1"/>
<text x="406.8" y="272.75" font-size="8.6" text-anchor="end">25%</text>
<line x1="408.3" y1="255.5" x2="412.8" y2="255.5" stroke="#000" stroke-width="1.1"/>
<text x="406.8" y="258.6" font-size="8.6" text-anchor="end">30%</text>
<line x1="408.3" y1="241.35" x2="412.8" y2="241.35" stroke="#000" stroke-width="1.1"/>
<text x="406.8" y="244.45" font-size="8.6" text-anchor="end">35%</text>
<line x1="408.3" y1="227.2" x2="412.8" y2="227.2" stroke="#000" stroke-width="1.1"/>
<text x="406.8" y="230.3" font-size="8.6" text-anchor="end">40%</text>
<line x1="408.3" y1="213.05" x2="412.8" y2="213.05" stroke="#000" stroke-width="1.1"/>
<text x="406.8" y="216.15" font-size="8.6" text-anchor="end">45%</text>
<text x="254.1" y="273.6" font-size="10.2" text-anchor="middle" textLength="63" lengthAdjust="spacingAndGlyphs" transform="rotate(-90 254.1 273.6)">γ/β-like globin</text>
<text x="384" y="273.6" font-size="10.2" text-anchor="middle" textLength="43.6" lengthAdjust="spacingAndGlyphs" transform="rotate(-90 384 273.6)">γ/α globin</text>
<line x1="293.8" y1="300.8" x2="293.8" y2="304" stroke="#000" stroke-width="1.3"/>
<line x1="291.6" y1="300.8" x2="296" y2="300.8" stroke="#000" stroke-width="1.3"/>
<rect x="288" y="304" width="11.6" height="36.4" fill="#c6001f"/>
<line x1="312.4" y1="227.4" x2="312.4" y2="242.2" stroke="#000" stroke-width="1.3"/>
<line x1="310.2" y1="227.4" x2="314.6" y2="227.4" stroke="#000" stroke-width="1.3"/>
<rect x="306.6" y="242.2" width="11.6" height="98.2" fill="#0033a3"/>
<line x1="331.4" y1="256.5" x2="331.4" y2="272" stroke="#000" stroke-width="1.3"/>
<line x1="329.2" y1="256.5" x2="333.6" y2="256.5" stroke="#000" stroke-width="1.3"/>
<rect x="325.6" y="272" width="11.6" height="68.4" fill="#ff7c00"/>
<line x1="350" y1="246.3" x2="350" y2="262.7" stroke="#000" stroke-width="1.3"/>
<line x1="347.8" y1="246.3" x2="352.2" y2="246.3" stroke="#000" stroke-width="1.3"/>
<rect x="344.2" y="262.7" width="11.6" height="77.7" fill="#47f019"/>
<line x1="423.3" y1="298.5" x2="423.3" y2="302.2" stroke="#000" stroke-width="1.3"/>
<line x1="421.1" y1="298.5" x2="425.5" y2="298.5" stroke="#000" stroke-width="1.3"/>
<rect x="417.6" y="302.2" width="11.4" height="38.2" fill="#c6001f"/>
<line x1="441.7" y1="228.5" x2="441.7" y2="243" stroke="#000" stroke-width="1.3"/>
<line x1="439.5" y1="228.5" x2="443.9" y2="228.5" stroke="#000" stroke-width="1.3"/>
<rect x="436" y="243" width="11.4" height="97.4" fill="#0033a3"/>
<line x1="461" y1="257.4" x2="461" y2="273" stroke="#000" stroke-width="1.3"/>
<line x1="458.8" y1="257.4" x2="463.2" y2="257.4" stroke="#000" stroke-width="1.3"/>
<rect x="455.3" y="273" width="11.4" height="67.4" fill="#ff7c00"/>
<line x1="479.5" y1="245.4" x2="479.5" y2="261.8" stroke="#000" stroke-width="1.3"/>
<line x1="477.3" y1="245.4" x2="481.7" y2="245.4" stroke="#000" stroke-width="1.3"/>
<rect x="473.8" y="261.8" width="11.4" height="78.6" fill="#47f019"/>
<line x1="290.3" y1="219.3" x2="313.8" y2="219.3" stroke="#333" stroke-width="1.5"/>
<circle cx="298.45" cy="216.2" r="1.15" fill="#111"/>
<circle cx="302.05" cy="216.2" r="1.15" fill="#111"/>
<circle cx="305.65" cy="216.2" r="1.15" fill="#111"/>
<line x1="290.3" y1="212.8" x2="332.8" y2="212.8" stroke="#333" stroke-width="1.5"/>
<circle cx="311.55" cy="209.7" r="1.15" fill="#111"/>
<line x1="290.3" y1="205.7" x2="350.3" y2="205.7" stroke="#333" stroke-width="1.5"/>
<circle cx="320.3" cy="202.6" r="1.15" fill="#111"/>
<line x1="418" y1="221.2" x2="442.3" y2="221.2" stroke="#333" stroke-width="1.5"/>
<circle cx="426.55" cy="218.1" r="1.15" fill="#111"/>
<circle cx="430.15" cy="218.1" r="1.15" fill="#111"/>
<circle cx="433.75" cy="218.1" r="1.15" fill="#111"/>
<line x1="418" y1="214.5" x2="458.5" y2="214.5" stroke="#333" stroke-width="1.5"/>
<circle cx="438.25" cy="211.4" r="1.15" fill="#111"/>
<line x1="418" y1="207.5" x2="479.7" y2="207.5" stroke="#333" stroke-width="1.5"/>
<circle cx="448.85" cy="204.4" r="1.15" fill="#111"/>
<rect x="283.4" y="351.7" width="6" height="6" fill="#c6001f"/>
<text x="294.7" y="357.4" font-size="7.5" text-anchor="start">untr</text>
<rect x="325.4" y="351.7" width="6" height="6" fill="#0033a3"/>
<text x="337" y="357.4" font-size="7.5" text-anchor="start">BCL11A</text>
<rect x="373" y="351.7" width="6" height="6" fill="#ff7c00"/>
<text x="384.4" y="357.4" font-size="7.5" text-anchor="start">HBG-197</text>
<rect x="422" y="351.7" width="6" height="6" fill="#47f019"/>
<text x="434" y="357.4" font-size="7.5" text-anchor="start">HBG-115</text>
<text x="7.5" y="381.7" font-size="11.5" text-anchor="start" font-weight="bold">E</text>
<rect x="39.7" y="387.2" width="92.3" height="160.5" fill="none" stroke="#000" stroke-width="1.3"/>
<line x1="36" y1="387.2" x2="40" y2="387.2" stroke="#000" stroke-width="1.1"/>
<text x="34.8" y="390.1" font-size="8.2" text-anchor="end">2</text>
<line x1="36" y1="451.7" x2="40" y2="451.7" stroke="#000" stroke-width="1.1"/>
<text x="34.8" y="454.6" font-size="8.2" text-anchor="end">1</text>
<line x1="36" y1="518" x2="40" y2="518" stroke="#000" stroke-width="1.1"/>
<text x="34.8" y="520.9" font-size="8.2" text-anchor="end">0.5</text>
<text x="18.7" y="450.9" font-size="10.6" text-anchor="middle" textLength="53" lengthAdjust="spacingAndGlyphs" transform="rotate(-90 18.7 450.9)">log2(Gγ/Aγ)</text>
<line x1="56" y1="495.8" x2="56" y2="480.4" stroke="#000" stroke-width="1.3"/>
<line x1="53.8" y1="495.8" x2="58.2" y2="495.8" stroke="#000" stroke-width="1.3"/>
<rect x="49.8" y="451.7" width="12.4" height="28.7" fill="#c6001f"/>
<line x1="75.7" y1="415.2" x2="75.7" y2="425.5" stroke="#000" stroke-width="1.3"/>
<line x1="73.5" y1="415.2" x2="77.9" y2="415.2" stroke="#000" stroke-width="1.3"/>
<rect x="69.5" y="425.5" width="12.4" height="26.2" fill="#0033a3"/>
<line x1="95.6" y1="517" x2="95.6" y2="496.8" stroke="#000" stroke-width="1.3"/>
<line x1="93.4" y1="517" x2="97.8" y2="517" stroke="#000" stroke-width="1.3"/>
<rect x="89.4" y="451.7" width="12.4" height="45.1" fill="#ff7c00"/>
<line x1="116.1" y1="534.6" x2="116.1" y2="523.6" stroke="#000" stroke-width="1.3"/>
<line x1="113.9" y1="534.6" x2="118.3" y2="534.6" stroke="#000" stroke-width="1.3"/>
<rect x="109.9" y="451.7" width="12.4" height="71.9" fill="#47f019"/>
<line x1="40" y1="451.7" x2="132" y2="451.7" stroke="#555" stroke-width="1.3"/>
<circle cx="74.2" cy="405.2" r="1.15" fill="#111"/><circle cx="77.8" cy="405.2" r="1.15" fill="#111"/>
<circle cx="116.15" cy="542.5" r="1.2" fill="#111"/>
<rect x="140.2" y="442.3" width="6.5" height="6.2" fill="#c6001f"/>
<text x="151.8" y="448.1" font-size="7.5" text-anchor="start">untr</text>
<rect x="140.2" y="456.1" width="6.5" height="6.2" fill="#0033a3"/>
<text x="151.8" y="461.9" font-size="7.5" text-anchor="start">BCL11A</text>
<rect x="140.2" y="470.1" width="6.5" height="6.2" fill="#ff7c00"/>
<text x="151.8" y="475.9" font-size="7.5" text-anchor="start">HBG-197</text>
<rect x="140.2" y="484.2" width="6.5" height="6.2" fill="#47f019"/>
<text x="151.8" y="490" font-size="7.5" text-anchor="start">HBG-115</text>
<text x="194.8" y="381.5" font-size="11.5" text-anchor="start" font-weight="bold">F</text>
<polyline points="209.5,547.32 209.9,547.18 210.3,546.77 210.7,546.27 211.1,546.04 211.5,545.99 211.9,546.29 212.3,546.7 212.7,547.45 213.1,547.89 213.5,548.32 213.9,548.68 214.3,548.53 214.7,548.63 215.1,549 215.5,549.26 215.9,549 216.3,548.77 216.7,548.81 217.1,548.6 217.5,548.55 217.9,548.39 218.3,548.65 218.7,548.81 219.1,548.48 219.5,545.96 219.9,539.43 220.3,525.21 220.7,501.08 221.1,470.19 221.5,442.87 221.9,431.86 222.3,437.4 222.7,452.39 223.1,473.06 223.5,494.88 223.9,514.16 224.3,528.92 224.7,538.87 225.1,544.86 225.5,548.28 225.9,549.64 226.3,550.26 226.7,550.78 227.1,550.61 227.5,550.81 227.9,550.9 228.3,550.62 228.7,550.59 229.1,550.77 229.5,550.86 229.9,550.61 230.3,551.06 230.7,551.32 231.1,551.67 231.5,551.37 231.9,551.22 232.3,550.92 232.7,551.2 233.1,551.08 233.5,550.87 233.9,550.9 234.3,551.28 234.7,551.56 235.1,551.39 235.5,551.18 235.9,551.54 236.3,551.61 236.7,551.77 237.1,551.47 237.5,551.19 237.9,551.39 238.3,551.39 238.7,551.13 239.1,551.53 239.5,551.67 239.9,551.91 240.3,551.61 240.7,551.9 241.1,551.59 241.5,551.9 241.9,551.87 242.3,551.77 242.7,551.84 243.1,552.16 243.5,551.98 243.9,551.72 244.3,551.79 244.7,551.63 245.1,551.41 245.5,551.25 245.9,551.04 246.3,550.96 246.7,550.97 247.1,550.98 247.5,551.31 247.9,551.27 248.3,551.39 248.7,551.26 249.1,551.28 249.5,551.05 249.9,551.03 250.3,550.82 250.7,551.16 251.1,551.32 251.5,551.2 251.9,551.3 252.3,551.71 252.7,551.45 253.1,551.57 253.5,550.84 253.9,549.02 254.3,543.67 254.7,533.41 255.1,518.22 255.5,501.75 255.9,490.74 256.3,489.32 256.7,490.3 257.1,492.2 257.5,494.95 257.9,498.42 258.3,502.46 258.7,506.91 259.1,511.6 259.5,516.37 259.9,521.07 260.3,525.58 260.7,529.78 261.1,533.61 261.5,537.03 261.9,540.01 262.3,542.56 262.7,544.69 263.1,546.44 263.5,547.85 263.9,548.97 264.3,549.2 264.7,549.89 265.1,550.29 265.5,551.07 265.9,551.71 266.3,551.95 266.7,551.92 267.1,552.39 267.5,552.32 267.9,552.28 268.3,551.98 268.7,551.99 269.1,552.07 269.5,552.16 269.9,552.03 270.3,552.13 270.7,551.87 271.1,551.82 271.5,551.66 271.9,551.75 272.3,551.57 272.7,551.41 273.1,551.47 273.5,551.47 273.9,551.74 274.3,551.93 274.7,552.27 275.1,552.5 275.5,552.73 275.9,553.05 276.3,552.98 276.7,552.85 277.1,553.16 277.5,552.67 277.9,552.3 278.3,551.35 278.7,549.62 279.1,547.93 279.5,546.81 279.9,546.74 280.3,547.33 280.7,548.35 281.1,549.56 281.5,551.05 281.9,551.97 282.3,552.86 282.7,553.46 283.1,553.87 283.5,553.97 283.9,554.22 284.3,554.26 284.7,554.28 285.1,553.92 285.5,553.42 285.9,553.01 286.3,552.78 286.7,552.42 287.1,552.7 287.5,552.84 287.9,553.08 288.3,553.32 288.7,553.56 289.1,553.61 289.5,553.28 289.9,553.55 290.3,553.73 290.7,553.71 291.1,553.72 291.5,553.81 291.9,553.47 292.3,553.65 292.7,553.46 293.1,553.17 293.5,553.04 293.9,553.27 294.3,553.1 294.7,553.33 295.1,553.7 295.5,553.68 295.9,553.59 296.3,553.57 296.7,553.71 297.1,553.89 297.5,553.94 297.9,554 298.3,553.65 298.7,553.39 299.1,553.24 299.5,553.46 299.9,553.34 300.3,553.43 300.7,553.1 301.1,552.85 301.5,552.78 301.9,553.01 302.3,553.22 302.7,553.4 303.1,553.28 303.5,553.34 303.9,553.35 304.3,553.37 304.7,553.13 305.1,553.48 305.5,553.29 305.9,553.68 306.3,554 306.7,553.61 307.1,553.59 307.5,553.84 307.9,554.16 308.3,554.07 308.7,553.86 309.1,553.63 309.5,553.97 309.9,553.73 310.3,553.79 310.7,553.52 311.1,553.57 311.5,553.91 311.9,553.63 312.3,553.88 312.7,553.87 313.1,554.13 313.5,554.24 313.9,553.99 314.3,554.25 314.7,554.18 315.1,553.79 315.5,553.43 315.9,553.47 316.3,553.47 316.7,553.37 317.1,553.16 317.5,553.13 317.9,553.08 318.3,553.41 318.7,553.1 319.1,553.37 319.5,553.67 319.9,553.41 320.3,553.77 320.7,553.92 321.1,554.19 321.5,553.96 321.9,553.76 322.3,553.47 322.7,553.43 323.1,552.75 323.5,551.52 323.9,549.88 324.3,548.32 324.7,546.95 325.1,546.14 325.5,546.08 325.9,546.38 326.3,546.96 326.7,547.74 327.1,548.65 327.5,549.59 327.9,550.5 328.3,550.8 328.7,551.89 329.1,552.74 329.5,553.37 329.9,553.73 330.3,554.19 330.7,554.57 331.1,554.59 331.5,554.7 331.9,554.3 332.3,554.44 332.7,554.34 333.1,554.48 333.5,554.52 333.9,554.29 334.3,553.92 334.7,554.23 335.1,553.93 335.5,553.91 335.9,553.8 336.3,553.67 336.7,553.87 337.1,554.22 337.5,554.02 337.9,554.12 338.3,553.96 338.7,554 339.1,553.92 339.5,553.68 339.9,553.47 340.3,553.32 340.7,553.69 341.1,553.72 341.5,553.55 341.9,553.89 342.3,554.26 342.7,554.19 343.1,553.91 343.5,553.69 343.9,553.43 344.3,553.39 344.7,553.17 345.1,553.08 345.5,553.01 345.9,553.18 346.3,553.56 346.7,553.79 347.1,553.76 347.5,553.73 347.9,553.78 348.3,553.72 348.7,553.64 349.1,553.37 349.5,553.29 349.9,553.71 350.3,553.48 350.7,553.55 351.1,553.7 351.5,554 351.9,553.8 352.3,553.67 352.7,553.53 353.1,553.52 353.5,553.55 353.9,553.94 354.3,554.2 354.7,554.45 355.1,554.06 355.5,553.73 355.9,553.92 356.3,554.22 356.7,554.19 357.1,554.24 357.5,553.86 357.9,553.81 358.3,554.15 358.7,554.38 359.1,554.6 359.5,554.88 359.9,554.6 360.3,554.26 360.7,553.99 361.1,554.02 361.5,554.16 361.9,554.48 362.3,554.59 362.7,554.64 363.1,554.77" fill="none" stroke="#47f019" stroke-width="1.3" stroke-linejoin="round"/>
<polyline points="209.5,520.23 209.9,519.95 210.3,518.98 210.7,518.42 211.1,517.68 211.5,518.07 211.9,518.69 212.3,519.31 212.7,519.82 213.1,520.3 213.5,520.86 213.9,521.29 214.3,521.11 214.7,520.87 215.1,520.97 215.5,521.09 215.9,521.06 216.3,520.91 216.7,521.06 217.1,520.76 217.5,520.7 217.9,520.76 218.3,521.14 218.7,521.03 219.1,520.32 219.5,517.07 219.9,509.45 220.3,494.82 220.7,473.14 221.1,449.65 221.5,433.94 221.9,432.83 222.3,440.89 222.7,454.88 223.1,471.46 223.5,487.38 223.9,500.42 224.3,509.76 224.7,515.69 225.1,518.68 225.5,520.33 225.9,521.12 226.3,521.65 226.7,521.61 227.1,521.94 227.5,522.17 227.9,522.21 228.3,522.02 228.7,522.41 229.1,522.28 229.5,522.54 229.9,522.34 230.3,522.17 230.7,522.41 231.1,522.28 231.5,522.65 231.9,522.65 232.3,522.43 232.7,522.27 233.1,522.26 233.5,522.44 233.9,522.81 234.3,522.56 234.7,522.52 235.1,522.35 235.5,522.76 235.9,522.53 236.3,522.26 236.7,522.03 237.1,522.07 237.5,522.47 237.9,522.82 238.3,523.02 238.7,523.39 239.1,523.68 239.5,523.49 239.9,523.23 240.3,523.55 240.7,523.69 241.1,523.31 241.5,523.43 241.9,523.33 242.3,523.24 242.7,523.14 243.1,522.94 243.5,522.64 243.9,522.59 244.3,522.59 244.7,523.03 245.1,522.82 245.5,523.25 245.9,523.08 246.3,523.05 246.7,523.36 247.1,523.63 247.5,523.59 247.9,523.29 248.3,523.33 248.7,523.29 249.1,523.66 249.5,523.47 249.9,523.42 250.3,523.75 250.7,523.41 251.1,523.39 251.5,523.66 251.9,523.87 252.3,523.5 252.7,523.06 253.1,522.28 253.5,520.95 253.9,516.9 254.3,507.87 254.7,493.56 255.1,476.65 255.5,463.45 255.9,460.04 256.3,460.79 256.7,462.5 257.1,465.09 257.5,468.44 257.9,472.41 258.3,476.84 258.7,481.55 259.1,486.38 259.5,491.18 259.9,495.81 260.3,500.16 260.7,504.15 261.1,507.72 261.5,510.86 261.9,513.55 262.3,515.82 262.7,517.7 263.1,519.22 263.5,520.43 263.9,521.73 264.3,522.19 264.7,522.94 265.1,523.48 265.5,523.96 265.9,524.3 266.3,524.45 266.7,524.36 267.1,524.26 267.5,524.19 267.9,524.42 268.3,524.12 268.7,523.93 269.1,524.17 269.5,524.01 269.9,523.74 270.3,523.49 270.7,523.64 271.1,523.61 271.5,524.06 271.9,524.39 272.3,524.75 272.7,524.56 273.1,524.26 273.5,524.01 273.9,524.08 274.3,524.29 274.7,524.3 275.1,524.15 275.5,524.13 275.9,524.26 276.3,524.4 276.7,524.56 277.1,524.72 277.5,524.61 277.9,523.9 278.3,523.52 278.7,522.52 279.1,521.75 279.5,521.07 279.9,521.04 280.3,521.35 280.7,521.7 281.1,522.18 281.5,522.59 281.9,523.44 282.3,523.89 282.7,524.01 283.1,524.09 283.5,524.55 283.9,524.57 284.3,524.38 284.7,524.6 285.1,524.67 285.5,524.94 285.9,524.47 286.3,524.26 286.7,524.28 287.1,524.33 287.5,524.5 287.9,524.13 288.3,524.1 288.7,523.99 289.1,523.95 289.5,524.44 289.9,524.56 290.3,524.89 290.7,524.77 291.1,525.01 291.5,524.92 291.9,524.71 292.3,524.89 292.7,525.18 293.1,524.83 293.5,524.87 293.9,524.92 294.3,524.69 294.7,524.58 295.1,524.33 295.5,524.16 295.9,524.04 296.3,524.18 296.7,524.35 297.1,524.17 297.5,523.88 297.9,523.85 298.3,524.08 298.7,523.93 299.1,523.89 299.5,523.77 299.9,524.1 300.3,524.21 300.7,523.95 301.1,523.76 301.5,523.8 301.9,523.95 302.3,524.15 302.7,523.93 303.1,523.79 303.5,524.05 303.9,524.07 304.3,524 304.7,523.96 305.1,524.38 305.5,524.3 305.9,524.41 306.3,524.36 306.7,524.35 307.1,524.67 307.5,525.05 307.9,524.93 308.3,524.7 308.7,524.88 309.1,524.67 309.5,524.34 309.9,524.69 310.3,524.66 310.7,524.92 311.1,524.85 311.5,525.13 311.9,525.08 312.3,524.82 312.7,524.48 313.1,524.57 313.5,524.72 313.9,525.04 314.3,524.73 314.7,524.85 315.1,524.77 315.5,524.8 315.9,524.56 316.3,524.46 316.7,524.54 317.1,524.9 317.5,524.63 317.9,524.67 318.3,524.93 318.7,525.28 319.1,525.03 319.5,524.76 319.9,525.12 320.3,525.45 320.7,525.39 321.1,525.03 321.5,525.32 321.9,525.15 322.3,525.3 322.7,525.08 323.1,524.81 323.5,523.8 323.9,523.06 324.3,521.56 324.7,520.69 325.1,520.18 325.5,520.14 325.9,520.34 326.3,520.72 326.7,521.23 327.1,521.81 327.5,522.33 327.9,522.66 328.3,523.05 328.7,523.73 329.1,524.41 329.5,524.35 329.9,524.64 330.3,524.99 330.7,524.76 331.1,525.11 331.5,524.88 331.9,525.02 332.3,525.1 332.7,525.22 333.1,525.1 333.5,525.07 333.9,525.16 334.3,525.13 334.7,525.28 335.1,525.25 335.5,525.22 335.9,524.9 336.3,525.05 336.7,525.08 337.1,524.93 337.5,525.18 337.9,525.41 338.3,525.39 338.7,525.16 339.1,525.18 339.5,524.93 339.9,524.73 340.3,524.77 340.7,524.56 341.1,524.63 341.5,524.75 341.9,524.51 342.3,524.73 342.7,524.53 343.1,524.82 343.5,525.1 343.9,525.17 344.3,524.9 344.7,524.98 345.1,524.96 345.5,525.37 345.9,525.13 346.3,525.45 346.7,525.82 347.1,525.97 347.5,526.16 347.9,525.87 348.3,526.19 348.7,526.12 349.1,526.4 349.5,526.61 349.9,526.26 350.3,526.4 350.7,526.63 351.1,526.2 351.5,526.04 351.9,526.19 352.3,525.89 352.7,526.15 353.1,525.94 353.5,526.15 353.9,525.85 354.3,525.84 354.7,526.14 355.1,525.89 355.5,525.71 355.9,525.72 356.3,525.6 356.7,525.3 357.1,525.13 357.5,524.98 357.9,525.4 358.3,525.58 358.7,525.9 359.1,525.66 359.5,525.89 359.9,525.62 360.3,525.67 360.7,525.8 361.1,525.71 361.5,526.01 361.9,526.04 362.3,526.09 362.7,526.35 363.1,526.01" fill="none" stroke="#ff7c00" stroke-width="1.3" stroke-linejoin="round"/>
<polyline points="209.5,497.08 209.9,496.68 210.3,495.73 210.7,494.9 211.1,493.71 211.5,493.7 211.9,494.79 212.3,495.45 212.7,496.43 213.1,496.97 213.5,497.09 213.9,497.47 214.3,497.21 214.7,497.5 215.1,497.33 215.5,497.45 215.9,497.81 216.3,497.85 216.7,497.93 217.1,497.76 217.5,497.38 217.9,497.07 218.3,496.89 218.7,496.99 219.1,496.58 219.5,495.1 219.9,491.23 220.3,481.94 220.7,466.2 221.1,446.03 221.5,428.2 221.9,421.01 222.3,424.62 222.7,434.39 223.1,447.87 223.5,462.11 223.9,474.69 224.3,484.31 224.7,490.8 225.1,494.7 225.5,496.2 225.9,497.05 226.3,497.93 226.7,498.02 227.1,497.94 227.5,497.8 227.9,498.07 228.3,498.46 228.7,498.73 229.1,498.7 229.5,498.58 229.9,498.3 230.3,498.5 230.7,498.63 231.1,498.59 231.5,498.77 231.9,498.79 232.3,499.17 232.7,499.35 233.1,499.17 233.5,499.49 233.9,499.15 234.3,499.21 234.7,499.17 235.1,499.02 235.5,498.76 235.9,499.05 236.3,498.76 236.7,498.9 237.1,499.3 237.5,499.09 237.9,498.94 238.3,499.11 238.7,499.19 239.1,499.36 239.5,499.64 239.9,499.42 240.3,499.34 240.7,499.26 241.1,499.01 241.5,499.4 241.9,499.67 242.3,499.86 242.7,499.52 243.1,499.83 243.5,500.03 243.9,500.01 244.3,500.2 244.7,500.16 245.1,499.96 245.5,499.71 245.9,499.57 246.3,499.32 246.7,499.32 247.1,499.62 247.5,499.84 247.9,500.15 248.3,500.33 248.7,500.17 249.1,500.24 249.5,500.23 249.9,500.47 250.3,500.46 250.7,500.25 251.1,500.34 251.5,500.65 251.9,500.38 252.3,500.58 252.7,499.97 253.1,499.07 253.5,497.04 253.9,491.76 254.3,481.65 254.7,466.68 255.1,450.46 255.5,439.61 255.9,438.2 256.3,439.14 256.7,441 257.1,443.69 257.5,447.09 257.9,451.05 258.3,455.42 258.7,460.02 259.1,464.7 259.5,469.31 259.9,473.73 260.3,477.85 260.7,481.61 261.1,484.95 261.5,487.87 261.9,490.36 262.3,492.45 262.7,494.16 263.1,495.53 263.5,496.62 263.9,497.15 264.3,497.54 264.7,498.38 265.1,498.64 265.5,498.65 265.9,498.54 266.3,498.44 266.7,498.8 267.1,499.06 267.5,499.33 267.9,499.58 268.3,499.31 268.7,499.45 269.1,499.41 269.5,499.71 269.9,499.96 270.3,500.24 270.7,499.9 271.1,500.17 271.5,500.45 271.9,500.71 272.3,500.34 272.7,500.09 273.1,499.81 273.5,499.5 273.9,499.82 274.3,500.07 274.7,500.17 275.1,500.4 275.5,500.46 275.9,500.26 276.3,499.95 276.7,499.66 277.1,499.79 277.5,499.29 277.9,498.5 278.3,497.22 278.7,495.88 279.1,494.14 279.5,493.19 279.9,493.35 280.3,494.12 280.7,495.3 281.1,496.61 281.5,497.58 281.9,498.82 282.3,499.56 282.7,499.62 283.1,499.82 283.5,499.93 283.9,500.22 284.3,500.14 284.7,500.32 285.1,500.33 285.5,500.07 285.9,500.25 286.3,499.79 286.7,499.87 287.1,499.48 287.5,499.09 287.9,499.02 288.3,499.46 288.7,500.06 289.1,499.88 289.5,500.04 289.9,500.16 290.3,500.44 290.7,500.24 291.1,500.28 291.5,500.2 291.9,500.49 292.3,500.33 292.7,500.68 293.1,500.51 293.5,500.32 293.9,500.5 294.3,500.51 294.7,500.24 295.1,500.39 295.5,500.12 295.9,500.39 296.3,500.56 296.7,500.78 297.1,500.86 297.5,500.73 297.9,500.66 298.3,500.58 298.7,500.88 299.1,500.56 299.5,500.86 299.9,500.5 300.3,500.31 300.7,500.19 301.1,500.55 301.5,500.57 301.9,500.5 302.3,500.81 302.7,500.61 303.1,500.6 303.5,500.65 303.9,500.85 304.3,501.02 304.7,501.1 305.1,500.95 305.5,500.81 305.9,500.56 306.3,500.84 306.7,500.96 307.1,501.12 307.5,500.85 307.9,500.8 308.3,501 308.7,501.04 309.1,500.75 309.5,500.74 309.9,501.03 310.3,500.83 310.7,500.61 311.1,500.51 311.5,500.7 311.9,500.97 312.3,500.72 312.7,500.5 313.1,500.37 313.5,500.31 313.9,500.4 314.3,500.22 314.7,500.19 315.1,500.06 315.5,500.51 315.9,500.73 316.3,500.48 316.7,500.87 317.1,500.6 317.5,500.57 317.9,500.97 318.3,501.19 318.7,501.34 319.1,501.25 319.5,501.01 319.9,501.11 320.3,500.82 320.7,500.63 321.1,500.59 321.5,500.29 321.9,500.24 322.3,500.39 322.7,500.3 323.1,499.83 323.5,499.19 323.9,498.18 324.3,497.16 324.7,496.2 325.1,495.64 325.5,495.59 325.9,495.81 326.3,496.22 326.7,496.77 327.1,497.41 327.5,498.08 327.9,498.76 328.3,499.5 328.7,500.24 329.1,500.78 329.5,501.16 329.9,501.56 330.3,501.74 330.7,501.84 331.1,501.77 331.5,501.59 331.9,501.65 332.3,501.31 332.7,501.24 333.1,501.44 333.5,501.57 333.9,501.62 334.3,501.39 334.7,501.31 335.1,501.27 335.5,501.35 335.9,501.27 336.3,501.39 336.7,501.68 337.1,501.4 337.5,501.49 337.9,501.66 338.3,501.53 338.7,501.49 339.1,501.8 339.5,501.41 339.9,501.42 340.3,501.16 340.7,501.37 341.1,501.68 341.5,501.65 341.9,501.32 342.3,501.37 342.7,501.39 343.1,501.53 343.5,501.52 343.9,501.59 344.3,501.8 344.7,501.75 345.1,501.64 345.5,501.92 345.9,501.64 346.3,501.74 346.7,501.62 347.1,501.77 347.5,501.45 347.9,501.79 348.3,501.63 348.7,501.28 349.1,501.13 349.5,501.09 349.9,500.77 350.3,500.79 350.7,500.8 351.1,501.02 351.5,500.96 351.9,500.84 352.3,500.71 352.7,500.97 353.1,501.34 353.5,501.37 353.9,501.17 354.3,501.42 354.7,501.35 355.1,501.15 355.5,500.92 355.9,501.18 356.3,501.44 356.7,501.54 357.1,501.51 357.5,501.55 357.9,501.34 358.3,501.69 358.7,501.56 359.1,501.65 359.5,501.86 359.9,502.05 360.3,501.96 360.7,501.76 361.1,501.76 361.5,501.46 361.9,501.71 362.3,501.58 362.7,501.83 363.1,501.63" fill="none" stroke="#0033a3" stroke-width="1.3" stroke-linejoin="round"/>
<polyline points="209.5,467.61 209.9,467.21 210.3,466.67 210.7,465.63 211.1,464.4 211.5,464.62 211.9,464.74 212.3,464.57 212.7,465.27 213.1,466.06 213.5,466.59 213.9,467.04 214.3,467.27 214.7,467.11 215.1,467.24 215.5,467.19 215.9,466.54 216.3,466.59 216.7,466.83 217.1,467.13 217.5,467.05 217.9,467.51 218.3,467.76 218.7,467.49 219.1,467.17 219.5,467.38 219.9,466.72 220.3,463.93 220.7,457.16 221.1,443.68 221.5,423.65 221.9,402.85 222.3,391.16 222.7,392.66 223.1,401.04 223.5,413.84 223.9,428.1 224.3,441.23 224.7,451.6 225.1,458.8 225.5,463.24 225.9,466.31 226.3,467.66 226.7,468.35 227.1,468.25 227.5,468.41 227.9,468.39 228.3,468.55 228.7,468.49 229.1,468.77 229.5,468.78 229.9,468.59 230.3,468.42 230.7,468.2 231.1,468.27 231.5,468.03 231.9,468.12 232.3,467.97 232.7,468.1 233.1,468.23 233.5,468.38 233.9,468.75 234.3,468.47 234.7,468.84 235.1,468.89 235.5,468.99 235.9,469.15 236.3,469.43 236.7,469.35 237.1,469.31 237.5,469.67 237.9,469.35 238.3,469.48 238.7,469.6 239.1,469.27 239.5,469.41 239.9,469.59 240.3,469.93 240.7,469.8 241.1,470.16 241.5,470.14 241.9,470.11 242.3,470.38 242.7,470.01 243.1,470.18 243.5,470.26 243.9,470.14 244.3,470.41 244.7,470.3 245.1,470.28 245.5,470.3 245.9,470.51 246.3,470.29 246.7,470.26 247.1,470.24 247.5,470.31 247.9,470.58 248.3,470.44 248.7,470.7 249.1,470.63 249.5,470.65 249.9,470.5 250.3,470.48 250.7,470.78 251.1,470.8 251.5,470.92 251.9,470.68 252.3,470.4 252.7,469.96 253.1,469.16 253.5,466.68 253.9,461.27 254.3,451.55 254.7,438.16 255.1,424.97 255.5,417.74 255.9,417.6 256.3,418.57 256.7,420.3 257.1,422.71 257.5,425.69 257.9,429.11 258.3,432.84 258.7,436.74 259.1,440.67 259.5,444.51 259.9,448.16 260.3,451.55 260.7,454.62 261.1,457.33 261.5,459.68 261.9,461.68 262.3,463.33 262.7,464.67 263.1,465.74 263.5,466.74 263.9,467.13 264.3,467.27 264.7,467.86 265.1,468.41 265.5,468.67 265.9,468.64 266.3,468.98 266.7,469.26 267.1,469.33 267.5,469.17 267.9,469.06 268.3,469.05 268.7,468.97 269.1,468.99 269.5,469.15 269.9,469.52 270.3,469.21 270.7,469.31 271.1,469.02 271.5,468.84 271.9,469.17 272.3,469.31 272.7,469.67 273.1,469.66 273.5,469.35 273.9,469.35 274.3,469.5 274.7,469.88 275.1,470.26 275.5,470.22 275.9,470.14 276.3,469.85 276.7,469.97 277.1,469.73 277.5,469.38 277.9,468.83 278.3,468.13 278.7,467.8 279.1,467.05 279.5,467.15 279.9,466.92 280.3,467.5 280.7,467.67 281.1,467.86 281.5,468.59 281.9,468.89 282.3,469.47 282.7,469.53 283.1,469.44 283.5,469.84 283.9,470.13 284.3,470.48 284.7,470.69 285.1,470.41 285.5,470.56 285.9,470.75 286.3,470.75 286.7,471.09 287.1,470.9 287.5,471.25 287.9,471.38 288.3,471 288.7,470.66 289.1,470.83 289.5,471.1 289.9,470.82 290.3,470.71 290.7,470.91 291.1,470.69 291.5,470.99 291.9,470.98 292.3,470.67 292.7,470.62 293.1,470.73 293.5,470.72 293.9,470.89 294.3,470.65 294.7,470.91 295.1,470.83 295.5,470.96 295.9,471.07 296.3,471.01 296.7,470.93 297.1,471.15 297.5,471.46 297.9,471.62 298.3,471.6 298.7,471.39 299.1,471.04 299.5,471.38 299.9,471.5 300.3,471.68 300.7,471.49 301.1,471.52 301.5,471.81 301.9,471.96 302.3,471.93 302.7,471.7 303.1,471.57 303.5,471.8 303.9,471.63 304.3,471.7 304.7,471.7 305.1,471.92 305.5,472.04 305.9,471.78 306.3,471.34 306.7,471.14 307.1,471.09 307.5,471.16 307.9,471.38 308.3,471.63 308.7,471.24 309.1,471.47 309.5,471.66 309.9,471.86 310.3,471.83 310.7,471.59 311.1,471.79 311.5,471.93 311.9,471.97 312.3,472.18 312.7,471.94 313.1,471.55 313.5,471.55 313.9,471.72 314.3,471.44 314.7,471.59 315.1,471.85 315.5,471.58 315.9,471.61 316.3,471.69 316.7,471.6 317.1,471.34 317.5,471.15 317.9,471.34 318.3,471.53 318.7,471.46 319.1,471.14 319.5,471.37 319.9,471.55 320.3,471.32 320.7,471.36 321.1,471.63 321.5,471.85 321.9,471.76 322.3,471.61 322.7,471.5 323.1,471.03 323.5,470.53 323.9,469.99 324.3,469.84 324.7,469.48 325.1,469.39 325.5,469.33 325.9,469.43 326.3,469.33 326.7,469.24 327.1,469.88 327.5,470.04 327.9,470.01 328.3,470.36 328.7,470.78 329.1,470.68 329.5,470.89 329.9,470.89 330.3,470.99 330.7,470.72 331.1,470.48 331.5,470.95 331.9,471.28 332.3,471.28 332.7,471.35 333.1,471.19 333.5,471.42 333.9,471.37 334.3,471.7 334.7,471.86 335.1,472.04 335.5,472.3 335.9,472.03 336.3,471.63 336.7,471.39 337.1,471.17 337.5,470.91 337.9,470.66 338.3,470.8 338.7,471.15 339.1,471.16 339.5,471.53 339.9,471.82 340.3,471.47 340.7,471.55 341.1,471.47 341.5,471.21 341.9,471.58 342.3,471.4 342.7,471.47 343.1,471.58 343.5,471.91 343.9,471.99 344.3,471.86 344.7,471.79 345.1,471.52 345.5,471.87 345.9,472.19 346.3,471.92 346.7,471.55 347.1,471.38 347.5,471.31 347.9,471.63 348.3,471.93 348.7,472.13 349.1,471.75 349.5,471.94 349.9,472.06 350.3,472.12 350.7,472.41 351.1,472.01 351.5,471.71 351.9,471.89 352.3,472.18 352.7,472.25 353.1,472.04 353.5,472.07 353.9,472.21 354.3,471.87 354.7,471.72 355.1,471.55 355.5,471.3 355.9,471.34 356.3,471.15 356.7,471.04 357.1,470.86 357.5,471.1 357.9,470.83 358.3,471.1 358.7,470.96 359.1,470.73 359.5,471.16 359.9,471.04 360.3,471.44 360.7,471.75 361.1,472.04 361.5,471.75 361.9,471.72 362.3,471.45 362.7,471.8 363.1,472.05" fill="none" stroke="#c6001f" stroke-width="1.3" stroke-linejoin="round"/>
<rect x="209.5" y="386.2" width="153.8" height="170.2" fill="none" stroke="#000" stroke-width="1.3"/>
<line x1="363.3" y1="387.46" x2="365.9" y2="387.46" stroke="#000" stroke-width="1.0"/>
<line x1="363.3" y1="391.57" x2="365.9" y2="391.57" stroke="#000" stroke-width="1.0"/>
<line x1="363.3" y1="395.68" x2="365.9" y2="395.68" stroke="#000" stroke-width="1.0"/>
<line x1="363.3" y1="399.79" x2="365.9" y2="399.79" stroke="#000" stroke-width="1.0"/>
<line x1="363.3" y1="403.9" x2="366.9" y2="403.9" stroke="#000" stroke-width="1.0"/>
<line x1="363.3" y1="408.01" x2="365.9" y2="408.01" stroke="#000" stroke-width="1.0"/>
<line x1="363.3" y1="412.12" x2="365.9" y2="412.12" stroke="#000" stroke-width="1.0"/>
<line x1="363.3" y1="416.23" x2="365.9" y2="416.23" stroke="#000" stroke-width="1.0"/>
<line x1="363.3" y1="420.34" x2="365.9" y2="420.34" stroke="#000" stroke-width="1.0"/>
<line x1="363.3" y1="424.45" x2="366.9" y2="424.45" stroke="#000" stroke-width="1.0"/>
<line x1="363.3" y1="428.56" x2="365.9" y2="428.56" stroke="#000" stroke-width="1.0"/>
<line x1="363.3" y1="432.67" x2="365.9" y2="432.67" stroke="#000" stroke-width="1.0"/>
<line x1="363.3" y1="436.78" x2="365.9" y2="436.78" stroke="#000" stroke-width="1.0"/>
<line x1="363.3" y1="440.89" x2="365.9" y2="440.89" stroke="#000" stroke-width="1.0"/>
<line x1="363.3" y1="445" x2="366.9" y2="445" stroke="#000" stroke-width="1.0"/>
<line x1="363.3" y1="449.11" x2="365.9" y2="449.11" stroke="#000" stroke-width="1.0"/>
<line x1="363.3" y1="453.22" x2="365.9" y2="453.22" stroke="#000" stroke-width="1.0"/>
<line x1="363.3" y1="457.33" x2="365.9" y2="457.33" stroke="#000" stroke-width="1.0"/>
<line x1="363.3" y1="461.44" x2="365.9" y2="461.44" stroke="#000" stroke-width="1.0"/>
<line x1="363.3" y1="465.55" x2="366.9" y2="465.55" stroke="#000" stroke-width="1.0"/>
<line x1="363.3" y1="469.66" x2="365.9" y2="469.66" stroke="#000" stroke-width="1.0"/>
<line x1="363.3" y1="473.77" x2="365.9" y2="473.77" stroke="#000" stroke-width="1.0"/>
<line x1="363.3" y1="477.88" x2="365.9" y2="477.88" stroke="#000" stroke-width="1.0"/>
<line x1="363.3" y1="481.99" x2="365.9" y2="481.99" stroke="#000" stroke-width="1.0"/>
<line x1="363.3" y1="486.1" x2="366.9" y2="486.1" stroke="#000" stroke-width="1.0"/>
<line x1="363.3" y1="490.21" x2="365.9" y2="490.21" stroke="#000" stroke-width="1.0"/>
<line x1="363.3" y1="494.32" x2="365.9" y2="494.32" stroke="#000" stroke-width="1.0"/>
<line x1="363.3" y1="498.43" x2="365.9" y2="498.43" stroke="#000" stroke-width="1.0"/>
<line x1="363.3" y1="502.54" x2="365.9" y2="502.54" stroke="#000" stroke-width="1.0"/>
<line x1="363.3" y1="506.65" x2="366.9" y2="506.65" stroke="#000" stroke-width="1.0"/>
<line x1="363.3" y1="510.76" x2="365.9" y2="510.76" stroke="#000" stroke-width="1.0"/>
<line x1="363.3" y1="514.87" x2="365.9" y2="514.87" stroke="#000" stroke-width="1.0"/>
<line x1="363.3" y1="518.98" x2="365.9" y2="518.98" stroke="#000" stroke-width="1.0"/>
<line x1="363.3" y1="523.09" x2="365.9" y2="523.09" stroke="#000" stroke-width="1.0"/>
<line x1="363.3" y1="527.2" x2="366.9" y2="527.2" stroke="#000" stroke-width="1.0"/>
<line x1="363.3" y1="531.31" x2="365.9" y2="531.31" stroke="#000" stroke-width="1.0"/>
<line x1="363.3" y1="535.42" x2="365.9" y2="535.42" stroke="#000" stroke-width="1.0"/>
<line x1="363.3" y1="539.53" x2="365.9" y2="539.53" stroke="#000" stroke-width="1.0"/>
<line x1="363.3" y1="543.64" x2="365.9" y2="543.64" stroke="#000" stroke-width="1.0"/>
<line x1="363.3" y1="547.75" x2="366.9" y2="547.75" stroke="#000" stroke-width="1.0"/>
<line x1="363.3" y1="551.86" x2="365.9" y2="551.86" stroke="#000" stroke-width="1.0"/>
<line x1="363.3" y1="555.97" x2="365.9" y2="555.97" stroke="#000" stroke-width="1.0"/>
<text x="368" y="405.9" font-size="5.5" text-anchor="start" font-weight="bold" textLength="8.6" lengthAdjust="spacingAndGlyphs">600</text>
<text x="368" y="426.45" font-size="5.5" text-anchor="start" font-weight="bold" textLength="8.6" lengthAdjust="spacingAndGlyphs">500</text>
<text x="368" y="447" font-size="5.5" text-anchor="start" font-weight="bold" textLength="8.6" lengthAdjust="spacingAndGlyphs">400</text>
<text x="368" y="467.55" font-size="5.5" text-anchor="start" font-weight="bold" textLength="8.6" lengthAdjust="spacingAndGlyphs">300</text>
<text x="368" y="488.1" font-size="5.5" text-anchor="start" font-weight="bold" textLength="8.6" lengthAdjust="spacingAndGlyphs">200</text>
<text x="368" y="508.65" font-size="5.5" text-anchor="start" font-weight="bold" textLength="8.6" lengthAdjust="spacingAndGlyphs">100</text>
<text x="368" y="529.2" font-size="5.5" text-anchor="start" font-weight="bold" textLength="2.9" lengthAdjust="spacingAndGlyphs">0</text>
<text x="368" y="549.75" font-size="5.5" text-anchor="start" font-weight="bold" textLength="8.6" lengthAdjust="spacingAndGlyphs">100</text>
<text x="391" y="475" font-size="8.3" text-anchor="middle" textLength="24" lengthAdjust="spacingAndGlyphs" transform="rotate(-90 391 475)">mVolts</text>
<line x1="213.87" y1="556.4" x2="213.87" y2="558.6" stroke="#000" stroke-width="0.8"/>
<line x1="215.67" y1="556.4" x2="215.67" y2="558.6" stroke="#000" stroke-width="0.8"/>
<line x1="217.48" y1="556.4" x2="217.48" y2="558.6" stroke="#000" stroke-width="0.8"/>
<line x1="219.28" y1="556.4" x2="219.28" y2="558.6" stroke="#000" stroke-width="0.8"/>
<line x1="221.09" y1="556.4" x2="221.09" y2="558.6" stroke="#000" stroke-width="0.8"/>
<line x1="222.89" y1="556.4" x2="222.89" y2="558.6" stroke="#000" stroke-width="0.8"/>
<line x1="224.7" y1="556.4" x2="224.7" y2="559.4" stroke="#000" stroke-width="0.8"/>
<line x1="226.5" y1="556.4" x2="226.5" y2="558.6" stroke="#000" stroke-width="0.8"/>
<line x1="228.31" y1="556.4" x2="228.31" y2="558.6" stroke="#000" stroke-width="0.8"/>
<line x1="230.11" y1="556.4" x2="230.11" y2="558.6" stroke="#000" stroke-width="0.8"/>
<line x1="231.92" y1="556.4" x2="231.92" y2="558.6" stroke="#000" stroke-width="0.8"/>
<line x1="233.72" y1="556.4" x2="233.72" y2="558.6" stroke="#000" stroke-width="0.8"/>
<line x1="235.53" y1="556.4" x2="235.53" y2="558.6" stroke="#000" stroke-width="0.8"/>
<line x1="237.33" y1="556.4" x2="237.33" y2="558.6" stroke="#000" stroke-width="0.8"/>
<line x1="239.14" y1="556.4" x2="239.14" y2="558.6" stroke="#000" stroke-width="0.8"/>
<line x1="240.94" y1="556.4" x2="240.94" y2="558.6" stroke="#000" stroke-width="0.8"/>
<line x1="242.75" y1="556.4" x2="242.75" y2="559.4" stroke="#000" stroke-width="0.8"/>
<line x1="244.55" y1="556.4" x2="244.55" y2="558.6" stroke="#000" stroke-width="0.8"/>
<line x1="246.36" y1="556.4" x2="246.36" y2="558.6" stroke="#000" stroke-width="0.8"/>
<line x1="248.16" y1="556.4" x2="248.16" y2="558.6" stroke="#000" stroke-width="0.8"/>
<line x1="249.97" y1="556.4" x2="249.97" y2="558.6" stroke="#000" stroke-width="0.8"/>
<line x1="251.77" y1="556.4" x2="251.77" y2="558.6" stroke="#000" stroke-width="0.8"/>
<line x1="253.58" y1="556.4" x2="253.58" y2="558.6" stroke="#000" stroke-width="0.8"/>
<line x1="255.38" y1="556.4" x2="255.38" y2="558.6" stroke="#000" stroke-width="0.8"/>
<line x1="257.19" y1="556.4" x2="257.19" y2="558.6" stroke="#000" stroke-width="0.8"/>
<line x1="259" y1="556.4" x2="259" y2="558.6" stroke="#000" stroke-width="0.8"/>
<line x1="260.8" y1="556.4" x2="260.8" y2="559.4" stroke="#000" stroke-width="0.8"/>
<line x1="262.61" y1="556.4" x2="262.61" y2="558.6" stroke="#000" stroke-width="0.8"/>
<line x1="264.41" y1="556.4" x2="264.41" y2="558.6" stroke="#000" stroke-width="0.8"/>
<line x1="266.21" y1="556.4" x2="266.21" y2="558.6" stroke="#000" stroke-width="0.8"/>
<line x1="268.02" y1="556.4" x2="268.02" y2="558.6" stroke="#000" stroke-width="0.8"/>
<line x1="269.82" y1="556.4" x2="269.82" y2="558.6" stroke="#000" stroke-width="0.8"/>
<line x1="271.63" y1="556.4" x2="271.63" y2="558.6" stroke="#000" stroke-width="0.8"/>
<line x1="273.44" y1="556.4" x2="273.44" y2="558.6" stroke="#000" stroke-width="0.8"/>
<line x1="275.24" y1="556.4" x2="275.24" y2="558.6" stroke="#000" stroke-width="0.8"/>
<line x1="277.05" y1="556.4" x2="277.05" y2="558.6" stroke="#000" stroke-width="0.8"/>
<line x1="278.85" y1="556.4" x2="278.85" y2="559.4" stroke="#000" stroke-width="0.8"/>
<line x1="280.65" y1="556.4" x2="280.65" y2="558.6" stroke="#000" stroke-width="0.8"/>
<line x1="282.46" y1="556.4" x2="282.46" y2="558.6" stroke="#000" stroke-width="0.8"/>
<line x1="284.26" y1="556.4" x2="284.26" y2="558.6" stroke="#000" stroke-width="0.8"/>
<line x1="286.07" y1="556.4" x2="286.07" y2="558.6" stroke="#000" stroke-width="0.8"/>
<line x1="287.88" y1="556.4" x2="287.88" y2="558.6" stroke="#000" stroke-width="0.8"/>
<line x1="289.68" y1="556.4" x2="289.68" y2="558.6" stroke="#000" stroke-width="0.8"/>
<line x1="291.49" y1="556.4" x2="291.49" y2="558.6" stroke="#000" stroke-width="0.8"/>
<line x1="293.29" y1="556.4" x2="293.29" y2="558.6" stroke="#000" stroke-width="0.8"/>
<line x1="295.1" y1="556.4" x2="295.1" y2="558.6" stroke="#000" stroke-width="0.8"/>
<line x1="296.9" y1="556.4" x2="296.9" y2="559.4" stroke="#000" stroke-width="0.8"/>
<line x1="298.7" y1="556.4" x2="298.7" y2="558.6" stroke="#000" stroke-width="0.8"/>
<line x1="300.51" y1="556.4" x2="300.51" y2="558.6" stroke="#000" stroke-width="0.8"/>
<line x1="302.31" y1="556.4" x2="302.31" y2="558.6" stroke="#000" stroke-width="0.8"/>
<line x1="304.12" y1="556.4" x2="304.12" y2="558.6" stroke="#000" stroke-width="0.8"/>
<line x1="305.92" y1="556.4" x2="305.92" y2="558.6" stroke="#000" stroke-width="0.8"/>
<line x1="307.73" y1="556.4" x2="307.73" y2="558.6" stroke="#000" stroke-width="0.8"/>
<line x1="309.53" y1="556.4" x2="309.53" y2="558.6" stroke="#000" stroke-width="0.8"/>
<line x1="311.34" y1="556.4" x2="311.34" y2="558.6" stroke="#000" stroke-width="0.8"/>
<line x1="313.14" y1="556.4" x2="313.14" y2="558.6" stroke="#000" stroke-width="0.8"/>
<line x1="314.95" y1="556.4" x2="314.95" y2="559.4" stroke="#000" stroke-width="0.8"/>
<line x1="316.75" y1="556.4" x2="316.75" y2="558.6" stroke="#000" stroke-width="0.8"/>
<line x1="318.56" y1="556.4" x2="318.56" y2="558.6" stroke="#000" stroke-width="0.8"/>
<line x1="320.37" y1="556.4" x2="320.37" y2="558.6" stroke="#000" stroke-width="0.8"/>
<line x1="322.17" y1="556.4" x2="322.17" y2="558.6" stroke="#000" stroke-width="0.8"/>
<line x1="323.98" y1="556.4" x2="323.98" y2="558.6" stroke="#000" stroke-width="0.8"/>
<line x1="325.78" y1="556.4" x2="325.78" y2="558.6" stroke="#000" stroke-width="0.8"/>
<line x1="327.59" y1="556.4" x2="327.59" y2="558.6" stroke="#000" stroke-width="0.8"/>
<line x1="329.39" y1="556.4" x2="329.39" y2="558.6" stroke="#000" stroke-width="0.8"/>
<line x1="331.19" y1="556.4" x2="331.19" y2="558.6" stroke="#000" stroke-width="0.8"/>
<line x1="333" y1="556.4" x2="333" y2="559.4" stroke="#000" stroke-width="0.8"/>
<line x1="334.8" y1="556.4" x2="334.8" y2="558.6" stroke="#000" stroke-width="0.8"/>
<line x1="336.61" y1="556.4" x2="336.61" y2="558.6" stroke="#000" stroke-width="0.8"/>
<line x1="338.41" y1="556.4" x2="338.41" y2="558.6" stroke="#000" stroke-width="0.8"/>
<line x1="340.22" y1="556.4" x2="340.22" y2="558.6" stroke="#000" stroke-width="0.8"/>
<line x1="342.02" y1="556.4" x2="342.02" y2="558.6" stroke="#000" stroke-width="0.8"/>
<line x1="343.83" y1="556.4" x2="343.83" y2="558.6" stroke="#000" stroke-width="0.8"/>
<line x1="345.63" y1="556.4" x2="345.63" y2="558.6" stroke="#000" stroke-width="0.8"/>
<line x1="347.44" y1="556.4" x2="347.44" y2="558.6" stroke="#000" stroke-width="0.8"/>
<line x1="349.25" y1="556.4" x2="349.25" y2="558.6" stroke="#000" stroke-width="0.8"/>
<line x1="351.05" y1="556.4" x2="351.05" y2="559.4" stroke="#000" stroke-width="0.8"/>
<line x1="352.86" y1="556.4" x2="352.86" y2="558.6" stroke="#000" stroke-width="0.8"/>
<line x1="354.66" y1="556.4" x2="354.66" y2="558.6" stroke="#000" stroke-width="0.8"/>
<line x1="356.47" y1="556.4" x2="356.47" y2="558.6" stroke="#000" stroke-width="0.8"/>
<line x1="358.27" y1="556.4" x2="358.27" y2="558.6" stroke="#000" stroke-width="0.8"/>
<line x1="360.07" y1="556.4" x2="360.07" y2="558.6" stroke="#000" stroke-width="0.8"/>
<line x1="361.88" y1="556.4" x2="361.88" y2="558.6" stroke="#000" stroke-width="0.8"/>
<text x="224.7" y="567.8" font-size="5.6" text-anchor="middle" font-weight="bold" textLength="10" lengthAdjust="spacingAndGlyphs">15.0</text>
<text x="242.75" y="567.8" font-size="5.6" text-anchor="middle" font-weight="bold" textLength="10" lengthAdjust="spacingAndGlyphs">20.0</text>
<text x="260.8" y="567.8" font-size="5.6" text-anchor="middle" font-weight="bold" textLength="10" lengthAdjust="spacingAndGlyphs">25.0</text>
<text x="278.85" y="567.8" font-size="5.6" text-anchor="middle" font-weight="bold" textLength="10" lengthAdjust="spacingAndGlyphs">30.0</text>
<text x="296.9" y="567.8" font-size="5.6" text-anchor="middle" font-weight="bold" textLength="10" lengthAdjust="spacingAndGlyphs">35.0</text>
<text x="314.95" y="567.8" font-size="5.6" text-anchor="middle" font-weight="bold" textLength="10" lengthAdjust="spacingAndGlyphs">45.0</text>
<text x="333" y="567.8" font-size="5.6" text-anchor="middle" font-weight="bold" textLength="10" lengthAdjust="spacingAndGlyphs">45.0</text>
<text x="351.05" y="567.8" font-size="5.6" text-anchor="middle" font-weight="bold" textLength="10" lengthAdjust="spacingAndGlyphs">50.0</text>
<text x="286.3" y="580.6" font-size="9.6" text-anchor="middle" textLength="27.6" lengthAdjust="spacingAndGlyphs">Minutes</text>
<text x="213" y="396.3" font-size="9.5" text-anchor="start" font-weight="bold">β</text>
<text x="247" y="416.5" font-size="10" text-anchor="start" font-weight="bold">α</text>
<text x="268.1" y="452.5" font-size="9.8" text-anchor="start" textLength="12.9" lengthAdjust="spacingAndGlyphs">Gγ</text>
<text x="317.1" y="452.5" font-size="9.8" text-anchor="start" textLength="11.7" lengthAdjust="spacingAndGlyphs">Aγ</text>
<polyline points="399.4,545.72 399.8,545.78 400.2,545.86 400.6,546 401,546.09 401.4,546.21 401.8,546.25 402.2,546.31 402.6,546.35 403,546.49 403.4,546.6 403.8,546.65 404.2,546.77 404.6,546.75 405,546.72 405.4,546.56 405.8,546.23 406.2,545.61 406.6,544.24 407,541.96 407.4,538.35 407.8,533.44 408.2,527.67 408.6,521.93 409,517.41 409.4,515.25 409.8,515.58 410.2,517.31 410.6,520.18 411,523.83 411.4,527.88 411.8,531.94 412.2,535.69 412.6,538.92 413,541.53 413.4,543.53 413.8,545.08 414.2,546 414.6,546.63 415,547.09 415.4,547.27 415.8,547.44 416.2,547.5 416.6,547.63 417,547.52 417.4,547.42 417.8,547.11 418.2,546.62 418.6,545.99 419,545.44 419.4,544.94 419.8,544.58 420.2,544.52 420.6,544.73 421,545.13 421.4,545.68 421.8,546.23 422.2,546.87 422.6,547.57 423,548.19 423.4,548.64 423.8,548.99 424.2,549.27 424.6,549.55 425,549.76 425.4,549.91 425.8,550.02 426.2,550.18 426.6,550.33 427,550.49 427.4,550.61 427.8,550.66 428.2,550.65 428.6,550.69 429,550.66 429.4,550.67 429.8,550.55 430.2,550.54 430.6,550.43 431,550.4 431.4,550.36 431.8,550.27 432.2,550.13 432.6,550.16 433,550.16 433.4,550.26 433.8,550.3 434.2,550.36 434.6,550.55 435,550.67 435.4,550.77 435.8,550.89 436.2,551.04 436.6,551.08 437,551.18 437.4,551.26 437.8,551.33 438.2,551.33 438.6,551.42 439,551.5 439.4,551.59 439.8,551.59 440.2,551.65 440.6,551.65 441,551.72 441.4,551.67 441.8,551.76 442.2,551.84 442.6,551.86 443,551.88 443.4,551.9 443.8,551.92 444.2,551.87 444.6,551.97 445,551.95 445.4,551.93 445.8,551.9 446.2,551.9 446.6,551.99 447,551.95 447.4,551.93 447.8,552.01 448.2,552 448.6,551.98 449,552.04 449.4,552.1 449.8,552.14 450.2,552.21 450.6,552.19 451,552.28 451.4,552.35 451.8,552.31 452.2,552.29 452.6,552.33 453,552.37 453.4,552.38 453.8,552.36 454.2,552.4 454.6,552.39 455,552.45 455.4,552.55 455.8,552.53 456.2,552.58 456.6,552.66 457,552.64 457.4,552.73 457.8,552.82 458.2,552.77 458.6,552.67 459,552.63 459.4,552.55 459.8,552.44 460.2,552.41 460.6,552.36 461,552.23 461.4,552.1 461.8,551.99 462.2,551.89 462.6,551.86 463,551.78 463.4,551.68 463.8,551.47 464.2,551.09 464.6,550.29 465,549.07 465.4,547.01 465.8,544.1 466.2,540.08 466.6,535.04 467,529.33 467.4,523.65 467.8,518.86 468.2,515.81 468.6,515.06 469,515.93 469.4,517.96 469.8,520.95 470.2,524.6 470.6,528.56 471,532.53 471.4,536.24 471.8,539.51 472.2,542.23 472.6,544.38 473,546 473.4,547.27 473.8,548 474.2,548.51 474.6,548.75 475,548.89 475.4,549 475.8,548.99 476.2,548.9 476.6,548.83 477,548.74 477.4,548.72 477.8,548.6 478.2,548.58 478.6,548.71 479,548.76 479.4,548.89 479.8,549.07 480.2,549.17 480.6,549.22 481,549.29 481.4,549.34 481.8,549.31 482.2,549.24 482.6,549.15 483,549.06 483.4,548.98 483.8,548.93 484.2,548.92 484.6,548.98 485,549.19 485.4,549.52 485.8,549.86 486.2,550.2 486.6,550.54 487,550.79 487.4,551.07 487.8,551.28 488.2,551.47 488.6,551.65 489,551.8 489.4,551.91 489.8,552.01 490.2,552.11 490.6,552.26 491,552.38 491.4,552.54 491.8,552.61 492.2,552.73 492.6,552.93 493,553.04" fill="none" stroke="#47f019" stroke-width="1.3" stroke-linejoin="round"/>
<polyline points="399.4,499.91 399.8,500 400.2,500.09 400.6,500.29 401,500.38 401.4,500.54 401.8,500.61 402.2,500.67 402.6,500.86 403,500.98 403.4,501.04 403.8,501.15 404.2,501.22 404.6,501.26 405,501.14 405.4,500.92 405.8,500.55 406.2,499.7 406.6,498.13 407,495.71 407.4,492.43 407.8,488.57 408.2,484.73 408.6,481.71 409,480.27 409.4,480.51 409.8,481.69 410.2,483.62 410.6,486.1 411,488.83 411.4,491.57 411.8,494.11 412.2,496.29 412.6,498.06 413,499.58 413.4,500.48 413.8,501.19 414.2,501.65 414.6,501.93 415,502.17 415.4,502.3 415.8,502.37 416.2,502.44 416.6,502.47 417,502.38 417.4,502.16 417.8,501.84 418.2,501.41 418.6,500.94 419,500.41 419.4,499.96 419.8,499.77 420.2,499.83 420.6,500.06 421,500.46 421.4,500.96 421.8,501.46 422.2,501.95 422.6,502.37 423,502.75 423.4,503.04 423.8,503.33 424.2,503.56 424.6,503.66 425,503.86 425.4,503.94 425.8,504.08 426.2,504.21 426.6,504.34 427,504.36 427.4,504.37 427.8,504.45 428.2,504.4 428.6,504.36 429,504.41 429.4,504.44 429.8,504.53 430.2,504.6 430.6,504.62 431,504.71 431.4,504.73 431.8,504.75 432.2,504.79 432.6,504.79 433,504.79 433.4,504.82 433.8,504.82 434.2,504.91 434.6,504.95 435,504.97 435.4,504.93 435.8,504.94 436.2,504.95 436.6,504.99 437,505.03 437.4,505.11 437.8,505.2 438.2,505.21 438.6,505.22 439,505.25 439.4,505.34 439.8,505.33 440.2,505.35 440.6,505.41 441,505.37 441.4,505.37 441.8,505.46 442.2,505.52 442.6,505.54 443,505.49 443.4,505.57 443.8,505.62 444.2,505.68 444.6,505.76 445,505.82 445.4,505.81 445.8,505.76 446.2,505.75 446.6,505.77 447,505.79 447.4,505.77 447.8,505.75 448.2,505.8 448.6,505.85 449,505.85 449.4,505.95 449.8,506 450.2,505.95 450.6,505.97 451,506.04 451.4,506.04 451.8,506.09 452.2,506.05 452.6,506.05 453,506.14 453.4,506.18 453.8,506.24 454.2,506.22 454.6,506.25 455,506.29 455.4,506.22 455.8,506.21 456.2,506.19 456.6,506.22 457,506.19 457.4,506.14 457.8,506.04 458.2,505.96 458.6,505.97 459,505.88 459.4,505.8 459.8,505.73 460.2,505.72 460.6,505.74 461,505.73 461.4,505.75 461.8,505.65 462.2,505.55 462.6,505.57 463,505.51 463.4,505.5 463.8,505.42 464.2,505.26 464.6,505.02 465,504.57 465.4,503.91 465.8,502.69 466.2,500.81 466.6,497.99 467,494.26 467.4,489.81 467.8,485.06 468.2,480.68 468.6,477.4 469,475.85 469.4,476.05 469.8,477.3 470.2,479.43 470.6,482.24 471,485.45 471.4,488.79 471.8,492.02 472.2,494.95 472.6,497.46 473,499.51 473.4,501.1 473.8,502.39 474.2,503.26 474.6,503.76 475,504.07 475.4,504.3 475.8,504.36 476.2,504.37 476.6,504.44 477,504.41 477.4,504.41 477.8,504.31 478.2,504.22 478.6,504.16 479,504.03 479.4,503.96 479.8,503.71 480.2,503.44 480.6,503.07 481,502.79 481.4,502.55 481.8,502.43 482.2,502.42 482.6,502.57 483,502.94 483.4,503.31 483.8,503.68 484.2,504.01 484.6,504.3 485,504.51 485.4,504.69 485.8,504.91 486.2,505.04 486.6,505.12 487,505.28 487.4,505.33 487.8,505.41 488.2,505.57 488.6,505.62 489,505.72 489.4,505.88 489.8,506.02 490.2,506.06 490.6,506.14 491,506.27 491.4,506.34 491.8,506.51 492.2,506.55 492.6,506.71 493,506.79" fill="none" stroke="#ff7c00" stroke-width="1.3" stroke-linejoin="round"/>
<polyline points="399.4,463.76 399.8,463.79 400.2,463.77 400.6,463.85 401,463.86 401.4,463.96 401.8,464.01 402.2,464.02 402.6,464.02 403,464.08 403.4,464.06 403.8,464.12 404.2,464 404.6,463.79 405,463.27 405.4,462.11 405.8,460.08 406.2,456.66 406.6,451.72 407,445.46 407.4,438.64 407.8,432.54 408.2,428.55 408.6,427.67 409,428.91 409.4,431.62 409.8,435.45 410.2,439.97 410.6,444.71 411,449.27 411.4,453.33 411.8,456.72 412.2,459.39 412.6,461.38 413,462.6 413.4,463.51 413.8,464.18 414.2,464.54 414.6,464.77 415,464.97 415.4,465.11 415.8,465.18 416.2,465.14 416.6,464.87 417,464.49 417.4,463.92 417.8,463.34 418.2,462.76 418.6,462.21 419,461.9 419.4,461.89 419.8,462.12 420.2,462.53 420.6,463.08 421,463.71 421.4,464.37 421.8,464.93 422.2,465.41 422.6,465.93 423,466.32 423.4,466.62 423.8,466.75 424.2,466.85 424.6,466.94 425,467.02 425.4,467.06 425.8,467.1 426.2,467.09 426.6,467.12 427,467.18 427.4,467.16 427.8,467.22 428.2,467.21 428.6,467.2 429,467.1 429.4,467 429.8,466.93 430.2,466.79 430.6,466.62 431,466.59 431.4,466.58 431.8,466.54 432.2,466.52 432.6,466.68 433,466.83 433.4,466.94 433.8,467.1 434.2,467.26 434.6,467.51 435,467.65 435.4,467.88 435.8,468.06 436.2,468.11 436.6,468.24 437,468.3 437.4,468.41 437.8,468.51 438.2,468.52 438.6,468.5 439,468.62 439.4,468.64 439.8,468.75 440.2,468.81 440.6,468.87 441,468.95 441.4,468.99 441.8,469 442.2,468.96 442.6,469.03 443,469.05 443.4,469.08 443.8,469.18 444.2,469.15 444.6,469.23 445,469.19 445.4,469.24 445.8,469.3 446.2,469.28 446.6,469.3 447,469.38 447.4,469.41 447.8,469.43 448.2,469.4 448.6,469.35 449,469.35 449.4,469.36 449.8,469.34 450.2,469.34 450.6,469.32 451,469.38 451.4,469.44 451.8,469.43 452.2,469.42 452.6,469.45 453,469.48 453.4,469.57 453.8,469.57 454.2,469.56 454.6,469.65 455,469.61 455.4,469.65 455.8,469.65 456.2,469.72 456.6,469.74 457,469.8 457.4,469.77 457.8,469.81 458.2,469.84 458.6,469.85 459,469.91 459.4,469.97 459.8,469.92 460.2,469.88 460.6,469.84 461,469.79 461.4,469.71 461.8,469.67 462.2,469.61 462.6,469.62 463,469.56 463.4,469.38 463.8,469.12 464.2,468.65 464.6,467.79 465,466.54 465.4,464.43 465.8,461.49 466.2,457.8 466.6,453.62 467,449.45 467.4,445.94 467.8,443.73 468.2,443.22 468.6,443.9 469,445.46 469.4,447.72 469.8,450.46 470.2,453.44 470.6,456.42 471,459.21 471.4,461.68 471.8,463.74 472.2,465.38 472.6,466.69 473,467.54 473.4,468.13 473.8,468.48 474.2,468.68 474.6,468.88 475,469.02 475.4,469.03 475.8,469 476.2,469.02 476.6,469.06 477,469.1 477.4,469.01 477.8,469.01 478.2,469.01 478.6,469 479,468.88 479.4,468.68 479.8,468.53 480.2,468.26 480.6,468 481,467.8 481.4,467.65 481.8,467.68 482.2,467.74 482.6,467.9 483,468.22 483.4,468.57 483.8,468.95 484.2,469.26 484.6,469.54 485,469.77 485.4,469.91 485.8,470.01 486.2,470.05 486.6,470.1 487,470.19 487.4,470.2 487.8,470.31 488.2,470.33 488.6,470.41 489,470.55 489.4,470.56 489.8,470.58 490.2,470.65 490.6,470.69 491,470.81 491.4,470.83 491.8,470.97 492.2,471.1 492.6,471.22 493,471.28" fill="none" stroke="#0033a3" stroke-width="1.3" stroke-linejoin="round"/>
<polyline points="399.4,418.57 399.8,418.65 400.2,418.72 400.6,418.78 401,418.83 401.4,418.9 401.8,419 402.2,419.12 402.6,419.24 403,419.25 403.4,419.29 403.8,419.35 404.2,419.38 404.6,419.31 405,419.15 405.4,418.85 405.8,418.34 406.2,417.5 406.6,416.3 407,414.52 407.4,412.43 407.8,410.34 408.2,408.7 408.6,407.92 409,408.02 409.4,408.59 409.8,409.53 410.2,410.76 410.6,412.13 411,413.54 411.4,414.87 411.8,416.05 412.2,417.17 412.6,417.91 413,418.46 413.4,418.94 413.8,419.15 414.2,419.29 414.6,419.44 415,419.5 415.4,419.54 415.8,419.63 416.2,419.63 416.6,419.61 417,419.49 417.4,419.3 417.8,419.02 418.2,418.65 418.6,418.22 419,417.87 419.4,417.76 419.8,417.78 420.2,417.9 420.6,418.23 421,418.56 421.4,418.92 421.8,419.35 422.2,419.72 422.6,420.08 423,420.39 423.4,420.6 423.8,420.81 424.2,420.92 424.6,421.05 425,421.17 425.4,421.15 425.8,421.18 426.2,421.14 426.6,421.16 427,421.23 427.4,421.24 427.8,421.25 428.2,421.25 428.6,421.14 429,421.14 429.4,421.08 429.8,420.91 430.2,420.85 430.6,420.73 431,420.6 431.4,420.61 431.8,420.59 432.2,420.64 432.6,420.63 433,420.75 433.4,420.8 433.8,420.89 434.2,421.01 434.6,421.08 435,421.23 435.4,421.3 435.8,421.37 436.2,421.49 436.6,421.54 437,421.65 437.4,421.7 437.8,421.78 438.2,421.81 438.6,421.88 439,421.93 439.4,421.88 439.8,421.92 440.2,421.9 440.6,421.95 441,421.97 441.4,422.02 441.8,421.96 442.2,421.95 442.6,421.99 443,422.06 443.4,422.09 443.8,422.02 444.2,422.04 444.6,421.99 445,422.01 445.4,422.09 445.8,422.06 446.2,422.15 446.6,422.2 447,422.19 447.4,422.17 447.8,422.2 448.2,422.28 448.6,422.32 449,422.3 449.4,422.26 449.8,422.25 450.2,422.34 450.6,422.34 451,422.39 451.4,422.4 451.8,422.47 452.2,422.5 452.6,422.49 453,422.59 453.4,422.63 453.8,422.7 454.2,422.77 454.6,422.87 455,422.82 455.4,422.78 455.8,422.72 456.2,422.72 456.6,422.77 457,422.81 457.4,422.73 457.8,422.67 458.2,422.72 458.6,422.74 459,422.71 459.4,422.7 459.8,422.64 460.2,422.69 460.6,422.67 461,422.71 461.4,422.71 461.8,422.64 462.2,422.6 462.6,422.55 463,422.6 463.4,422.57 463.8,422.42 464.2,422.23 464.6,421.94 465,421.48 465.4,420.75 465.8,419.66 466.2,418.32 466.6,416.6 467,414.78 467.4,413.09 467.8,411.83 468.2,411.24 468.6,411.31 469,411.75 469.4,412.51 469.8,413.52 470.2,414.69 470.6,415.92 471,417.13 471.4,418.26 471.8,419.25 472.2,419.97 472.6,420.71 473,421.3 473.4,421.6 473.8,421.88 474.2,422.1 474.6,422.26 475,422.36 475.4,422.41 475.8,422.43 476.2,422.41 476.6,422.36 477,422.4 477.4,422.43 477.8,422.47 478.2,422.47 478.6,422.42 479,422.44 479.4,422.44 479.8,422.4 480.2,422.37 480.6,422.29 481,422.25 481.4,422.2 481.8,422.12 482.2,422.1 482.6,422.11 483,422.24 483.4,422.29 483.8,422.32 484.2,422.34 484.6,422.35 485,422.38 485.4,422.4 485.8,422.4 486.2,422.52 486.6,422.57 487,422.62 487.4,422.69 487.8,422.71 488.2,422.72 488.6,422.72 489,422.76 489.4,422.79 489.8,422.89 490.2,422.96 490.6,423.08 491,423.11 491.4,423.22 491.8,423.27 492.2,423.25 492.6,423.25 493,423.32" fill="none" stroke="#c6001f" stroke-width="1.3" stroke-linejoin="round"/>
<rect x="399.4" y="387.3" width="93.8" height="171.7" fill="none" stroke="#000" stroke-width="1.3"/>
<text x="405.2" y="398.8" font-size="10.4" text-anchor="start" textLength="13" lengthAdjust="spacingAndGlyphs">Gγ</text>
<text x="464.2" y="398.8" font-size="10.4" text-anchor="start" textLength="11.6" lengthAdjust="spacingAndGlyphs">Aγ</text>
</svg>
</body></html>
